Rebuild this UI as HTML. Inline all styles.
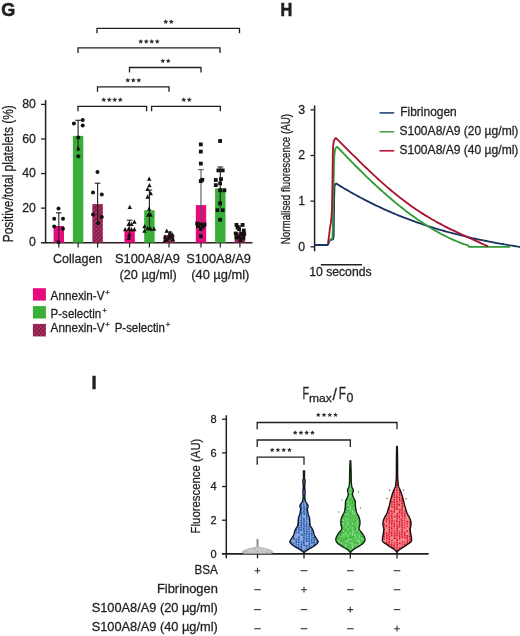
<!DOCTYPE html>
<html><head><meta charset="utf-8"><style>
html,body{margin:0;padding:0;background:#fff;}
svg{display:block;font-family:"Liberation Sans", sans-serif;will-change:transform;}
text{stroke:#231f20;stroke-width:0.28px;}
</style></head><body>
<svg width="520" height="636" viewBox="0 0 520 636">
<text x="1.2" y="15.9" font-size="18.5" text-anchor="start" font-weight="bold" fill="#231f20" textLength="14" lengthAdjust="spacingAndGlyphs" style="stroke-width:0.6px">G</text>
<text x="280.4" y="15.9" font-size="18.5" text-anchor="start" font-weight="bold" fill="#231f20" textLength="11.8" lengthAdjust="spacingAndGlyphs" style="stroke-width:0.6px">H</text>
<text x="91.6" y="389.3" font-size="18.5" text-anchor="start" font-weight="bold" fill="#231f20" style="stroke-width:0.5px">I</text>
<line x1="45.6" y1="100" x2="45.6" y2="243.29999999999998" stroke="#231f20" stroke-width="1.5"/>
<line x1="41" y1="242.7" x2="252.5" y2="242.7" stroke="#231f20" stroke-width="1.4"/>
<line x1="41" y1="104.40" x2="45.6" y2="104.40" stroke="#231f20" stroke-width="1.3"/>
<line x1="41" y1="138.98" x2="45.6" y2="138.98" stroke="#231f20" stroke-width="1.3"/>
<line x1="41" y1="173.55" x2="45.6" y2="173.55" stroke="#231f20" stroke-width="1.3"/>
<line x1="41" y1="208.12" x2="45.6" y2="208.12" stroke="#231f20" stroke-width="1.3"/>
<text x="35.9" y="108.1" font-size="12.3" text-anchor="end" font-weight="normal" fill="#231f20" >80</text>
<text x="35.9" y="142.68" font-size="12.3" text-anchor="end" font-weight="normal" fill="#231f20" >60</text>
<text x="35.9" y="177.25" font-size="12.3" text-anchor="end" font-weight="normal" fill="#231f20" >40</text>
<text x="35.9" y="211.82" font-size="12.3" text-anchor="end" font-weight="normal" fill="#231f20" >20</text>
<text x="35.9" y="246.4" font-size="12.3" text-anchor="end" font-weight="normal" fill="#231f20" >0</text>
<text transform="translate(13.4,242.2) rotate(-90)" font-size="15.2" fill="#231f20" textLength="137" lengthAdjust="spacingAndGlyphs">Positive/total platelets (%)</text>
<defs><pattern id="hatch" patternUnits="userSpaceOnUse" width="3" height="3" patternTransform="rotate(45)"><rect width="3" height="3" fill="#c0306a"/><rect width="1.1" height="3" fill="#6a1e3c"/></pattern><pattern id="hatch2" patternUnits="userSpaceOnUse" width="3" height="3" patternTransform="rotate(-45)"><rect width="1.0" height="3" fill="#6a1e3c" opacity="0.55"/></pattern></defs>
<rect x="53.60" y="226" width="10.4" height="16.70" fill="#e60a7e"/>
<rect x="72.90" y="135.9" width="10.4" height="106.80" fill="#39ae38"/>
<rect x="92.40" y="204.1" width="10.4" height="38.60" fill="url(#hatch)"/>
<rect x="92.40" y="204.1" width="10.4" height="38.60" fill="url(#hatch2)"/>
<rect x="124.40" y="230.4" width="10.4" height="12.30" fill="#e60a7e"/>
<rect x="144.20" y="210.3" width="10.4" height="32.40" fill="#39ae38"/>
<rect x="163.80" y="235.0" width="10.4" height="7.70" fill="url(#hatch)"/>
<rect x="163.80" y="235.0" width="10.4" height="7.70" fill="url(#hatch2)"/>
<rect x="195.80" y="205.1" width="10.4" height="37.60" fill="#e60a7e"/>
<rect x="215.10" y="188.4" width="10.4" height="54.30" fill="#39ae38"/>
<rect x="234.70" y="232.5" width="10.4" height="10.20" fill="url(#hatch)"/>
<rect x="234.70" y="232.5" width="10.4" height="10.20" fill="url(#hatch2)"/>
<line x1="58.8" y1="242.7" x2="58.8" y2="247.6" stroke="#231f20" stroke-width="1.2"/>
<line x1="78.1" y1="242.7" x2="78.1" y2="247.6" stroke="#231f20" stroke-width="1.2"/>
<line x1="97.6" y1="242.7" x2="97.6" y2="247.6" stroke="#231f20" stroke-width="1.2"/>
<line x1="129.6" y1="242.7" x2="129.6" y2="247.6" stroke="#231f20" stroke-width="1.2"/>
<line x1="149.4" y1="242.7" x2="149.4" y2="247.6" stroke="#231f20" stroke-width="1.2"/>
<line x1="169.0" y1="242.7" x2="169.0" y2="247.6" stroke="#231f20" stroke-width="1.2"/>
<line x1="201.0" y1="242.7" x2="201.0" y2="247.6" stroke="#231f20" stroke-width="1.2"/>
<line x1="220.3" y1="242.7" x2="220.3" y2="247.6" stroke="#231f20" stroke-width="1.2"/>
<line x1="239.9" y1="242.7" x2="239.9" y2="247.6" stroke="#231f20" stroke-width="1.2"/>
<line x1="58.8" y1="212.8" x2="58.8" y2="239.5" stroke="#231f20" stroke-width="1.1"/>
<line x1="56.0" y1="212.8" x2="61.599999999999994" y2="212.8" stroke="#231f20" stroke-width="1.1"/>
<line x1="78.1" y1="120.3" x2="78.1" y2="151.5" stroke="#231f20" stroke-width="1.1"/>
<line x1="75.3" y1="120.3" x2="80.89999999999999" y2="120.3" stroke="#231f20" stroke-width="1.1"/>
<line x1="97.6" y1="183.2" x2="97.6" y2="225" stroke="#231f20" stroke-width="1.1"/>
<line x1="94.8" y1="183.2" x2="100.39999999999999" y2="183.2" stroke="#231f20" stroke-width="1.1"/>
<line x1="129.6" y1="220.2" x2="129.6" y2="238" stroke="#231f20" stroke-width="1.1"/>
<line x1="126.8" y1="220.2" x2="132.4" y2="220.2" stroke="#231f20" stroke-width="1.1"/>
<line x1="149.4" y1="190.1" x2="149.4" y2="229" stroke="#231f20" stroke-width="1.1"/>
<line x1="146.6" y1="190.1" x2="152.20000000000002" y2="190.1" stroke="#231f20" stroke-width="1.1"/>
<line x1="169.0" y1="232" x2="169.0" y2="238" stroke="#231f20" stroke-width="1.1"/>
<line x1="166.2" y1="232" x2="171.8" y2="232" stroke="#231f20" stroke-width="1.1"/>
<line x1="201.0" y1="169.7" x2="201.0" y2="240.5" stroke="#555" stroke-width="1.1"/>
<line x1="198.2" y1="169.7" x2="203.8" y2="169.7" stroke="#555" stroke-width="1.1"/>
<line x1="220.3" y1="167" x2="220.3" y2="207.6" stroke="#231f20" stroke-width="1.1"/>
<line x1="217.5" y1="167" x2="223.10000000000002" y2="167" stroke="#231f20" stroke-width="1.1"/>
<line x1="239.9" y1="226" x2="239.9" y2="239" stroke="#231f20" stroke-width="1.1"/>
<line x1="237.1" y1="226" x2="242.70000000000002" y2="226" stroke="#231f20" stroke-width="1.1"/>
<circle cx="58.5" cy="208.5" r="2.0" fill="#111"/>
<circle cx="54.2" cy="218.8" r="2.0" fill="#111"/>
<circle cx="63" cy="218.8" r="2.0" fill="#111"/>
<circle cx="54.2" cy="226.5" r="2.0" fill="#111"/>
<circle cx="63" cy="228.7" r="2.0" fill="#111"/>
<circle cx="58.5" cy="241.9" r="2.0" fill="#111"/>
<circle cx="73.9" cy="123.6" r="2.0" fill="#111"/>
<circle cx="82.7" cy="119.9" r="2.0" fill="#111"/>
<circle cx="82.7" cy="125.4" r="2.0" fill="#111"/>
<circle cx="78.3" cy="137.5" r="2.0" fill="#111"/>
<circle cx="78.3" cy="156.2" r="2.0" fill="#111"/>
<path d="M78.30 145.88L80.50 150.17L76.10 150.17Z" fill="#111"/>
<circle cx="97.5" cy="172" r="2.0" fill="#111"/>
<circle cx="93" cy="192.4" r="2.0" fill="#111"/>
<circle cx="101.8" cy="194.6" r="2.0" fill="#111"/>
<circle cx="93" cy="214.4" r="2.0" fill="#111"/>
<circle cx="101.8" cy="217" r="2.0" fill="#111"/>
<circle cx="98.1" cy="223.2" r="2.0" fill="#111"/>
<path d="M129.80 204.78L132.00 209.07L127.60 209.07Z" fill="#111"/>
<path d="M128.70 221.78L130.90 226.07L126.50 226.07Z" fill="#111"/>
<path d="M131.50 221.78L133.70 226.07L129.30 226.07Z" fill="#111"/>
<path d="M134.40 219.48L136.60 223.77L132.20 223.77Z" fill="#111"/>
<path d="M125.20 226.98L127.40 231.27L123.00 231.27Z" fill="#111"/>
<path d="M128.70 226.38L130.90 230.67L126.50 230.67Z" fill="#111"/>
<path d="M131.50 226.98L133.70 231.27L129.30 231.27Z" fill="#111"/>
<path d="M134.40 226.98L136.60 231.27L132.20 231.27Z" fill="#111"/>
<path d="M129.20 232.18L131.40 236.47L127.00 236.47Z" fill="#111"/>
<path d="M128.70 235.78L130.90 240.07L126.50 240.07Z" fill="#111"/>
<path d="M149.20 176.58L151.40 180.87L147.00 180.87Z" fill="#111"/>
<path d="M149.40 182.88L151.60 187.17L147.20 187.17Z" fill="#111"/>
<path d="M147.60 186.68L149.80 190.97L145.40 190.97Z" fill="#111"/>
<path d="M150.70 190.88L152.90 195.17L148.50 195.17Z" fill="#111"/>
<path d="M147.60 194.58L149.80 198.87L145.40 198.87Z" fill="#111"/>
<path d="M149.10 206.58L151.30 210.87L146.90 210.87Z" fill="#111"/>
<path d="M148.30 212.58L150.50 216.87L146.10 216.87Z" fill="#111"/>
<path d="M150.60 212.58L152.80 216.87L148.40 216.87Z" fill="#111"/>
<path d="M144.50 223.88L146.70 228.17L142.30 228.17Z" fill="#111"/>
<path d="M147.70 225.88L149.90 230.17L145.50 230.17Z" fill="#111"/>
<path d="M150.60 226.38L152.80 230.67L148.40 230.67Z" fill="#111"/>
<path d="M154.00 226.38L156.20 230.67L151.80 230.67Z" fill="#111"/>
<path d="M144.50 228.58L146.70 232.87L142.30 232.87Z" fill="#111"/>
<path d="M166.70 228.58L168.90 232.87L164.50 232.87Z" fill="#111"/>
<path d="M170.20 230.58L172.40 234.87L168.00 234.87Z" fill="#111"/>
<path d="M172.50 232.18L174.70 236.47L170.30 236.47Z" fill="#111"/>
<path d="M165.00 234.58L167.20 238.87L162.80 238.87Z" fill="#111"/>
<path d="M168.50 235.58L170.70 239.87L166.30 239.87Z" fill="#111"/>
<path d="M171.30 234.58L173.50 238.87L169.10 238.87Z" fill="#111"/>
<path d="M167.00 237.58L169.20 241.87L164.80 241.87Z" fill="#111"/>
<path d="M173.00 237.08L175.20 241.37L170.80 241.37Z" fill="#111"/>
<path d="M164.80 238.08L167.00 242.37L162.60 242.37Z" fill="#111"/>
<path d="M169.50 232.58L171.70 236.87L167.30 236.87Z" fill="#111"/>
<rect x="198.90" y="142.50" width="3.8" height="3.8" fill="#111"/>
<rect x="198.90" y="149.70" width="3.8" height="3.8" fill="#111"/>
<rect x="198.90" y="161.70" width="3.8" height="3.8" fill="#111"/>
<rect x="198.90" y="179.20" width="3.8" height="3.8" fill="#111"/>
<rect x="200.40" y="177.90" width="3.8" height="3.8" fill="#111"/>
<rect x="195.30" y="221.70" width="3.8" height="3.8" fill="#111"/>
<rect x="198.90" y="222.60" width="3.8" height="3.8" fill="#111"/>
<rect x="202.60" y="222.60" width="3.8" height="3.8" fill="#111"/>
<rect x="198.90" y="227.10" width="3.8" height="3.8" fill="#111"/>
<rect x="198.90" y="234.30" width="3.8" height="3.8" fill="#111"/>
<rect x="196.10" y="224.10" width="3.8" height="3.8" fill="#111"/>
<rect x="201.10" y="224.60" width="3.8" height="3.8" fill="#111"/>
<rect x="218.20" y="139.10" width="3.8" height="3.8" fill="#111"/>
<rect x="216.50" y="168.50" width="3.8" height="3.8" fill="#111"/>
<rect x="220.80" y="168.50" width="3.8" height="3.8" fill="#111"/>
<rect x="213.90" y="178.10" width="3.8" height="3.8" fill="#111"/>
<rect x="219.10" y="177.20" width="3.8" height="3.8" fill="#111"/>
<rect x="213.90" y="183.20" width="3.8" height="3.8" fill="#111"/>
<rect x="218.20" y="181.50" width="3.8" height="3.8" fill="#111"/>
<rect x="218.20" y="188.40" width="3.8" height="3.8" fill="#111"/>
<rect x="222.50" y="188.40" width="3.8" height="3.8" fill="#111"/>
<rect x="218.20" y="201.40" width="3.8" height="3.8" fill="#111"/>
<rect x="215.60" y="208.30" width="3.8" height="3.8" fill="#111"/>
<rect x="220.80" y="208.30" width="3.8" height="3.8" fill="#111"/>
<rect x="218.20" y="217.80" width="3.8" height="3.8" fill="#111"/>
<rect x="234.60" y="223.00" width="3.8" height="3.8" fill="#111"/>
<rect x="240.70" y="223.00" width="3.8" height="3.8" fill="#111"/>
<rect x="237.20" y="227.30" width="3.8" height="3.8" fill="#111"/>
<rect x="233.80" y="231.60" width="3.8" height="3.8" fill="#111"/>
<rect x="239.80" y="231.60" width="3.8" height="3.8" fill="#111"/>
<rect x="237.20" y="235.10" width="3.8" height="3.8" fill="#111"/>
<rect x="241.50" y="235.90" width="3.8" height="3.8" fill="#111"/>
<rect x="235.60" y="225.60" width="3.8" height="3.8" fill="#111"/>
<rect x="241.90" y="228.60" width="3.8" height="3.8" fill="#111"/>
<rect x="234.60" y="235.60" width="3.8" height="3.8" fill="#111"/>
<rect x="238.60" y="238.30" width="3.8" height="3.8" fill="#111"/>
<rect x="242.30" y="232.10" width="3.8" height="3.8" fill="#111"/>
<path d="M97 33.3V28.3H239.5V33.3" fill="none" stroke="#231f20" stroke-width="1.3"/>
<path d="M78 53.099999999999994V47.8H220V53.099999999999994" fill="none" stroke="#231f20" stroke-width="1.3"/>
<path d="M129.5 72.5V67.5H201V72.5" fill="none" stroke="#231f20" stroke-width="1.3"/>
<path d="M97.5 91.8V86.8H169V91.8" fill="none" stroke="#231f20" stroke-width="1.3"/>
<path d="M78 111.3V106.3H146.6V111.3" fill="none" stroke="#231f20" stroke-width="1.3"/>
<path d="M151.6 111.3V106.3H220.3V111.3" fill="none" stroke="#231f20" stroke-width="1.3"/>
<polygon points="165.75,19.20 166.48,20.79 168.22,21.00 166.94,22.19 167.28,23.90 165.75,23.05 164.22,23.90 164.56,22.19 163.28,21.00 165.02,20.79" fill="#333"/>
<polygon points="171.25,19.20 171.98,20.79 173.72,21.00 172.44,22.19 172.78,23.90 171.25,23.05 169.72,23.90 170.06,22.19 168.78,21.00 170.52,20.79" fill="#333"/>
<polygon points="140.75,39.00 141.48,40.59 143.22,40.80 141.94,41.99 142.28,43.70 140.75,42.85 139.22,43.70 139.56,41.99 138.28,40.80 140.02,40.59" fill="#333"/>
<polygon points="146.25,39.00 146.98,40.59 148.72,40.80 147.44,41.99 147.78,43.70 146.25,42.85 144.72,43.70 145.06,41.99 143.78,40.80 145.52,40.59" fill="#333"/>
<polygon points="151.75,39.00 152.48,40.59 154.22,40.80 152.94,41.99 153.28,43.70 151.75,42.85 150.22,43.70 150.56,41.99 149.28,40.80 151.02,40.59" fill="#333"/>
<polygon points="157.25,39.00 157.98,40.59 159.72,40.80 158.44,41.99 158.78,43.70 157.25,42.85 155.72,43.70 156.06,41.99 154.78,40.80 156.52,40.59" fill="#333"/>
<polygon points="162.75,58.30 163.48,59.89 165.22,60.10 163.94,61.29 164.28,63.00 162.75,62.15 161.22,63.00 161.56,61.29 160.28,60.10 162.02,59.89" fill="#333"/>
<polygon points="168.25,58.30 168.98,59.89 170.72,60.10 169.44,61.29 169.78,63.00 168.25,62.15 166.72,63.00 167.06,61.29 165.78,60.10 167.52,59.89" fill="#333"/>
<polygon points="127.80,77.70 128.53,79.29 130.27,79.50 128.99,80.69 129.33,82.40 127.80,81.55 126.27,82.40 126.61,80.69 125.33,79.50 127.07,79.29" fill="#333"/>
<polygon points="133.30,77.70 134.03,79.29 135.77,79.50 134.49,80.69 134.83,82.40 133.30,81.55 131.77,82.40 132.11,80.69 130.83,79.50 132.57,79.29" fill="#333"/>
<polygon points="138.80,77.70 139.53,79.29 141.27,79.50 139.99,80.69 140.33,82.40 138.80,81.55 137.27,82.40 137.61,80.69 136.33,79.50 138.07,79.29" fill="#333"/>
<polygon points="103.75,97.20 104.48,98.79 106.22,99.00 104.94,100.19 105.28,101.90 103.75,101.05 102.22,101.90 102.56,100.19 101.28,99.00 103.02,98.79" fill="#333"/>
<polygon points="109.25,97.20 109.98,98.79 111.72,99.00 110.44,100.19 110.78,101.90 109.25,101.05 107.72,101.90 108.06,100.19 106.78,99.00 108.52,98.79" fill="#333"/>
<polygon points="114.75,97.20 115.48,98.79 117.22,99.00 115.94,100.19 116.28,101.90 114.75,101.05 113.22,101.90 113.56,100.19 112.28,99.00 114.02,98.79" fill="#333"/>
<polygon points="120.25,97.20 120.98,98.79 122.72,99.00 121.44,100.19 121.78,101.90 120.25,101.05 118.72,101.90 119.06,100.19 117.78,99.00 119.52,98.79" fill="#333"/>
<polygon points="183.75,97.20 184.48,98.79 186.22,99.00 184.94,100.19 185.28,101.90 183.75,101.05 182.22,101.90 182.56,100.19 181.28,99.00 183.02,98.79" fill="#333"/>
<polygon points="189.25,97.20 189.98,98.79 191.72,99.00 190.44,100.19 190.78,101.90 189.25,101.05 187.72,101.90 188.06,100.19 186.78,99.00 188.52,98.79" fill="#333"/>
<text x="53.0" y="263.2" font-size="12.5" text-anchor="start" font-weight="normal" fill="#231f20" textLength="49.3" lengthAdjust="spacingAndGlyphs" >Collagen</text>
<text x="115.0" y="263.2" font-size="12.5" text-anchor="start" font-weight="normal" fill="#231f20" textLength="64.8" lengthAdjust="spacingAndGlyphs" >S100A8/A9</text>
<text x="119.6" y="278.7" font-size="12.5" text-anchor="start" font-weight="normal" fill="#231f20" textLength="57.2" lengthAdjust="spacingAndGlyphs" >(20 µg/ml)</text>
<text x="186.2" y="263.2" font-size="12.5" text-anchor="start" font-weight="normal" fill="#231f20" textLength="64.8" lengthAdjust="spacingAndGlyphs" >S100A8/A9</text>
<text x="191.2" y="278.7" font-size="12.5" text-anchor="start" font-weight="normal" fill="#231f20" textLength="58.2" lengthAdjust="spacingAndGlyphs" >(40 µg/ml)</text>
<rect x="32.9" y="288.2" width="13" height="12.4" fill="#e60a7e"/>
<rect x="32.9" y="306.1" width="13" height="12.4" fill="#39ae38"/>
<rect x="32.9" y="323.9" width="13" height="12.5" fill="url(#hatch)"/>
<rect x="32.9" y="323.9" width="13" height="12.5" fill="url(#hatch2)"/>
<text x="50.6" y="299.9" font-size="12.4" text-anchor="start" font-weight="normal" fill="#231f20" textLength="53.9" lengthAdjust="spacingAndGlyphs" >Annexin-V</text>
<text x="105.3" y="294.6" font-size="7.5" text-anchor="start" font-weight="normal" fill="#231f20" >+</text>
<text x="50.6" y="317.8" font-size="12.4" text-anchor="start" font-weight="normal" fill="#231f20" textLength="50.6" lengthAdjust="spacingAndGlyphs" >P-selectin</text>
<text x="102.5" y="313.0" font-size="7.5" text-anchor="start" font-weight="normal" fill="#231f20" >+</text>
<text x="50.6" y="331.9" font-size="12.4" text-anchor="start" font-weight="normal" fill="#231f20" textLength="53.9" lengthAdjust="spacingAndGlyphs" >Annexin-V</text>
<text x="105.3" y="326.6" font-size="7.5" text-anchor="start" font-weight="normal" fill="#231f20" >+</text>
<text x="114.7" y="331.9" font-size="12.4" text-anchor="start" font-weight="normal" fill="#231f20" textLength="50.3" lengthAdjust="spacingAndGlyphs" >P-selectin</text>
<text x="165.8" y="326.8" font-size="7.5" text-anchor="start" font-weight="normal" fill="#231f20" >+</text>
<line x1="314.6" y1="105.4" x2="314.6" y2="251.3" stroke="#231f20" stroke-width="1.5"/>
<line x1="310.5" y1="246.80" x2="314.6" y2="246.80" stroke="#231f20" stroke-width="1.3"/>
<text x="305.0" y="250.7" font-size="12.3" text-anchor="end" font-weight="normal" fill="#231f20" >0</text>
<line x1="310.5" y1="201.13" x2="314.6" y2="201.13" stroke="#231f20" stroke-width="1.3"/>
<text x="305.0" y="205.03" font-size="12.3" text-anchor="end" font-weight="normal" fill="#231f20" >1</text>
<line x1="310.5" y1="155.47" x2="314.6" y2="155.47" stroke="#231f20" stroke-width="1.3"/>
<text x="305.0" y="159.37" font-size="12.3" text-anchor="end" font-weight="normal" fill="#231f20" >2</text>
<line x1="310.5" y1="109.80" x2="314.6" y2="109.80" stroke="#231f20" stroke-width="1.3"/>
<text x="305.0" y="113.7" font-size="12.3" text-anchor="end" font-weight="normal" fill="#231f20" >3</text>
<text transform="translate(289.6,244.2) rotate(-90)" font-size="12" fill="#231f20" textLength="130.3" lengthAdjust="spacingAndGlyphs">Normalised fluorescence (AU)</text>
<path d="M314.6 245.0 L327.7 245.0 L329.9 240.2 L333.0 239.4 L333.7 236.0 L334.1 200.0 L334.5 186.5 L335.3 184.0 L336.3 183.6 L338.3 184.8 L340.3 186.1 L342.3 187.3 L344.3 188.5 L346.3 189.6 L348.3 190.8 L350.3 192.0 L352.3 193.1 L354.3 194.2 L356.3 195.3 L358.3 196.4 L360.3 197.5 L362.3 198.5 L364.3 199.6 L366.3 200.6 L368.3 201.6 L370.3 202.6 L372.3 203.6 L374.3 204.6 L376.3 205.6 L378.3 206.5 L380.3 207.4 L382.3 208.4 L384.3 209.3 L386.3 210.2 L388.3 211.1 L390.3 211.9 L392.3 212.8 L394.3 213.6 L396.3 214.5 L398.3 215.3 L400.3 216.1 L402.3 216.9 L404.3 217.7 L406.3 218.4 L408.3 219.2 L410.3 219.9 L412.3 220.7 L414.3 221.4 L416.3 222.1 L418.3 222.8 L420.3 223.5 L422.3 224.2 L424.3 224.9 L426.3 225.5 L428.3 226.2 L430.3 226.8 L432.3 227.4 L434.3 228.1 L436.3 228.7 L438.3 229.3 L440.3 229.9 L442.3 230.4 L444.3 231.0 L446.3 231.6 L448.3 232.1 L450.3 232.7 L452.3 233.2 L454.3 233.7 L456.3 234.2 L458.3 234.7 L460.3 235.2 L462.3 235.7 L464.3 236.2 L466.3 236.7 L468.3 237.2 L470.3 237.6 L472.3 238.1 L474.3 238.5 L476.3 239.0 L478.3 239.4 L480.3 239.8 L482.3 240.2 L484.3 240.6 L486.3 241.0 L488.3 241.4 L490.3 241.8 L492.3 242.2 L494.3 242.6 L496.3 243.0 L498.3 243.3 L500.3 243.7 L502.3 244.0 L504.3 244.4 L506.3 244.7 L508.3 245.1 L510.3 245.4 L512.3 245.7 L514.3 246.0 L516.3 246.3 L518.3 246.7 L520.3 247.0 L521.0 247.1" fill="none" stroke="#1b3462" stroke-width="1.85" stroke-linejoin="round"/>
<path d="M328.6 241.2 L331.0 239.3 L332.3 238.5 L332.8 230.0 L333.3 200.0 L333.9 165.0 L334.4 155.0 L334.9 150.3 L335.6 148.2 L336.4 147.4 L337.2 146.8 L339.2 148.9 L341.2 151.0 L343.2 153.1 L345.2 155.2 L347.2 157.3 L349.2 159.4 L351.2 161.4 L353.2 163.4 L355.2 165.5 L357.2 167.5 L359.2 169.5 L361.2 171.4 L363.2 173.4 L365.2 175.3 L367.2 177.3 L369.2 179.2 L371.2 181.1 L373.2 183.0 L375.2 184.8 L377.2 186.7 L379.2 188.5 L381.2 190.3 L383.2 192.1 L385.2 193.8 L387.2 195.6 L389.2 197.3 L391.2 199.0 L393.2 200.7 L395.2 202.4 L397.2 204.0 L399.2 205.6 L401.2 207.2 L403.2 208.8 L405.2 210.4 L407.2 211.9 L409.2 213.4 L411.2 214.9 L413.2 216.3 L415.2 217.8 L417.2 219.2 L419.2 220.5 L421.2 221.9 L423.2 223.2 L425.2 224.5 L427.2 225.8 L429.2 227.1 L431.2 228.3 L433.2 229.5 L435.2 230.6 L437.2 231.8 L439.2 232.9 L441.2 234.0 L443.2 235.0 L445.2 236.0 L447.2 237.0 L449.2 238.0 L451.2 238.9 L453.2 239.8 L455.2 240.7 L457.2 241.5 L459.2 242.3 L461.2 243.1 L463.2 243.8 L465.2 244.5 L467.2 245.2 L468.5 245.6 L468.8 246.8 L510.0 246.8" fill="none" stroke="#2f9b35" stroke-width="1.85" stroke-linejoin="round"/>
<path d="M328.0 243.2 L329.2 234.7 L329.9 228.4 L330.9 222.7 L331.6 215.6 L332.0 208.5 L332.5 180.0 L332.8 155.0 L333.1 147.0 L333.6 142.2 L334.3 139.9 L335.0 139.1 L335.8 137.9 L337.8 139.8 L339.8 141.8 L341.8 143.8 L343.8 145.8 L345.8 147.8 L347.8 149.8 L349.8 151.8 L351.8 153.8 L353.8 155.7 L355.8 157.7 L357.8 159.7 L359.8 161.7 L361.8 163.6 L363.8 165.6 L365.8 167.5 L367.8 169.4 L369.8 171.3 L371.8 173.2 L373.8 175.1 L375.8 176.9 L377.8 178.8 L379.8 180.6 L381.8 182.4 L383.8 184.1 L385.8 185.9 L387.8 187.6 L389.8 189.3 L391.8 191.0 L393.8 192.6 L395.8 194.3 L397.8 195.9 L399.8 197.5 L401.8 199.0 L403.8 200.5 L405.8 202.0 L407.8 203.5 L409.8 205.0 L411.8 206.4 L413.8 207.8 L415.8 209.2 L417.8 210.5 L419.8 211.8 L421.8 213.1 L423.8 214.4 L425.8 215.6 L427.8 216.8 L429.8 218.0 L431.8 219.2 L433.8 220.3 L435.8 221.5 L437.8 222.6 L439.8 223.7 L441.8 224.7 L443.8 225.8 L445.8 226.8 L447.8 227.8 L449.8 228.8 L451.8 229.8 L453.8 230.7 L455.8 231.7 L457.8 232.6 L459.8 233.6 L461.8 234.5 L463.8 235.4 L465.8 236.3 L467.8 237.2 L469.8 238.1 L471.8 239.0 L473.8 239.9 L475.8 240.8 L477.8 241.7 L479.8 242.6 L481.8 243.6 L483.8 244.5 L485.8 245.4 L487.8 246.4 L488.0 246.5" fill="none" stroke="#a8122f" stroke-width="1.85" stroke-linejoin="round"/>
<line x1="379.5" y1="112.9" x2="394.2" y2="112.9" stroke="#234777" stroke-width="1.6"/>
<line x1="379.5" y1="131.8" x2="394.2" y2="131.8" stroke="#4aa64f" stroke-width="1.6"/>
<line x1="379.5" y1="150.8" x2="394.2" y2="150.8" stroke="#bd1433" stroke-width="1.6"/>
<text x="400.2" y="115.6" font-size="12" text-anchor="start" font-weight="normal" fill="#231f20" textLength="56.6" lengthAdjust="spacingAndGlyphs" >Fibrinogen</text>
<text x="399.4" y="135.0" font-size="12" text-anchor="start" font-weight="normal" fill="#231f20" textLength="119" lengthAdjust="spacingAndGlyphs" >S100A8/A9 (20 µg/ml)</text>
<text x="399.4" y="153.7" font-size="12" text-anchor="start" font-weight="normal" fill="#231f20" textLength="119" lengthAdjust="spacingAndGlyphs" >S100A8/A9 (40 µg/ml)</text>
<line x1="320.8" y1="264.7" x2="362" y2="264.7" stroke="#231f20" stroke-width="1.5"/>
<text x="309.2" y="276.4" font-size="12" text-anchor="start" font-weight="normal" fill="#231f20" textLength="62.4" lengthAdjust="spacingAndGlyphs" >10 seconds</text>
<line x1="226.3" y1="415.3" x2="226.3" y2="558.3" stroke="#231f20" stroke-width="1.5"/>
<line x1="222" y1="553.9" x2="428.7" y2="553.9" stroke="#231f20" stroke-width="1.6"/>
<line x1="222" y1="419.20" x2="226.3" y2="419.20" stroke="#231f20" stroke-width="1.3"/>
<line x1="222" y1="452.88" x2="226.3" y2="452.88" stroke="#231f20" stroke-width="1.3"/>
<line x1="222" y1="486.55" x2="226.3" y2="486.55" stroke="#231f20" stroke-width="1.3"/>
<line x1="222" y1="520.23" x2="226.3" y2="520.23" stroke="#231f20" stroke-width="1.3"/>
<text x="216.6" y="423.1" font-size="11" text-anchor="end" font-weight="normal" fill="#231f20" >8</text>
<text x="216.6" y="456.77" font-size="11" text-anchor="end" font-weight="normal" fill="#231f20" >6</text>
<text x="216.6" y="490.45" font-size="11" text-anchor="end" font-weight="normal" fill="#231f20" >4</text>
<text x="216.6" y="524.12" font-size="11" text-anchor="end" font-weight="normal" fill="#231f20" >2</text>
<text x="216.6" y="557.8" font-size="11" text-anchor="end" font-weight="normal" fill="#231f20" >0</text>
<text transform="translate(199.6,533.4) rotate(-90)" font-size="13.6" fill="#231f20" textLength="94.8" lengthAdjust="spacingAndGlyphs">Fluorescence (AU)</text>
<text x="302.6" y="399.2" font-size="15.6" text-anchor="start" font-weight="normal" fill="#231f20" textLength="6.6" lengthAdjust="spacingAndGlyphs" >F</text>
<text x="309.0" y="401.6" font-size="10.8" text-anchor="start" font-weight="normal" fill="#231f20" textLength="22.8" lengthAdjust="spacingAndGlyphs" >max</text>
<text x="332.6" y="400.0" font-size="15.8" text-anchor="start" font-weight="normal" fill="#231f20" >/</text>
<text x="338.8" y="399.2" font-size="15.6" text-anchor="start" font-weight="normal" fill="#231f20" textLength="7.2" lengthAdjust="spacingAndGlyphs" >F</text>
<text x="346.4" y="402.4" font-size="12.6" text-anchor="start" font-weight="normal" fill="#231f20" textLength="6.9" lengthAdjust="spacingAndGlyphs" >0</text>
<line x1="257.5" y1="553.9" x2="257.5" y2="558.4" stroke="#231f20" stroke-width="1.3"/>
<line x1="304.0" y1="553.9" x2="304.0" y2="558.4" stroke="#231f20" stroke-width="1.3"/>
<line x1="350.3" y1="553.9" x2="350.3" y2="558.4" stroke="#231f20" stroke-width="1.3"/>
<line x1="397.0" y1="553.9" x2="397.0" y2="558.4" stroke="#231f20" stroke-width="1.3"/>
<path d="M257.2 429.3V422.5H397V429.3" fill="none" stroke="#231f20" stroke-width="1.3"/>
<path d="M257.2 447V440H350.3V447" fill="none" stroke="#231f20" stroke-width="1.3"/>
<path d="M257.2 464.8V457.2H304V464.8" fill="none" stroke="#231f20" stroke-width="1.3"/>
<polygon points="318.27,412.40 318.98,413.93 320.65,414.13 319.42,415.27 319.74,416.92 318.27,416.10 316.81,416.92 317.13,415.27 315.90,414.13 317.57,413.93" fill="#333"/>
<polygon points="324.02,412.40 324.73,413.93 326.40,414.13 325.17,415.27 325.49,416.92 324.02,416.10 322.56,416.92 322.88,415.27 321.65,414.13 323.32,413.93" fill="#333"/>
<polygon points="329.77,412.40 330.48,413.93 332.15,414.13 330.92,415.27 331.24,416.92 329.77,416.10 328.31,416.92 328.63,415.27 327.40,414.13 329.07,413.93" fill="#333"/>
<polygon points="335.52,412.40 336.23,413.93 337.90,414.13 336.67,415.27 336.99,416.92 335.52,416.10 334.06,416.92 334.38,415.27 333.15,414.13 334.82,413.93" fill="#333"/>
<polygon points="295.18,430.30 295.88,431.83 297.55,432.03 296.32,433.17 296.64,434.82 295.18,434.00 293.71,434.82 294.03,433.17 292.80,432.03 294.47,431.83" fill="#333"/>
<polygon points="300.93,430.30 301.63,431.83 303.30,432.03 302.07,433.17 302.39,434.82 300.93,434.00 299.46,434.82 299.78,433.17 298.55,432.03 300.22,431.83" fill="#333"/>
<polygon points="306.68,430.30 307.38,431.83 309.05,432.03 307.82,433.17 308.14,434.82 306.68,434.00 305.21,434.82 305.53,433.17 304.30,432.03 305.97,431.83" fill="#333"/>
<polygon points="312.43,430.30 313.13,431.83 314.80,432.03 313.57,433.17 313.89,434.82 312.43,434.00 310.96,434.82 311.28,433.17 310.05,432.03 311.72,431.83" fill="#333"/>
<polygon points="272.18,447.50 272.88,449.03 274.55,449.23 273.32,450.37 273.64,452.02 272.18,451.20 270.71,452.02 271.03,450.37 269.80,449.23 271.47,449.03" fill="#333"/>
<polygon points="277.93,447.50 278.63,449.03 280.30,449.23 279.07,450.37 279.39,452.02 277.93,451.20 276.46,452.02 276.78,450.37 275.55,449.23 277.22,449.03" fill="#333"/>
<polygon points="283.68,447.50 284.38,449.03 286.05,449.23 284.82,450.37 285.14,452.02 283.68,451.20 282.21,452.02 282.53,450.37 281.30,449.23 282.97,449.03" fill="#333"/>
<polygon points="289.43,447.50 290.13,449.03 291.80,449.23 290.57,450.37 290.89,452.02 289.43,451.20 287.96,452.02 288.28,450.37 287.05,449.23 288.72,449.03" fill="#333"/>
<clipPath id="clip257"><path d="M257.10 539.00 L257.05 539.22 L256.99 539.49 L256.91 539.85 L256.85 540.34 L256.80 541.00 L256.82 541.95 L256.89 543.16 L256.95 544.45 L256.94 545.63 L256.80 546.50 L256.53 547.00 L256.18 547.26 L255.72 547.38 L255.17 547.46 L254.50 547.60 L253.66 547.80 L252.67 547.99 L251.59 548.18 L250.51 548.38 L249.50 548.60 L248.53 548.86 L247.56 549.14 L246.62 549.43 L245.75 549.72 L245.00 550.00 L244.37 550.27 L243.84 550.53 L243.39 550.78 L243.02 551.04 L242.70 551.30 L242.42 551.56 L242.19 551.83 L242.04 552.10 L242.00 552.36 L242.10 552.60 L242.43 552.84 L242.96 553.07 L243.57 553.29 L244.13 553.47 L244.50 553.60 L270.50 553.60 L270.87 553.47 L271.43 553.29 L272.04 553.07 L272.57 552.84 L272.90 552.60 L273.00 552.36 L272.96 552.10 L272.81 551.83 L272.58 551.56 L272.30 551.30 L271.98 551.04 L271.61 550.78 L271.16 550.53 L270.63 550.27 L270.00 550.00 L269.25 549.72 L268.38 549.43 L267.44 549.14 L266.47 548.86 L265.50 548.60 L264.49 548.38 L263.41 548.18 L262.33 547.99 L261.34 547.80 L260.50 547.60 L259.83 547.46 L259.28 547.38 L258.82 547.26 L258.47 547.00 L258.20 546.50 L258.06 545.63 L258.05 544.45 L258.11 543.16 L258.18 541.95 L258.20 541.00 L258.15 540.34 L258.09 539.85 L258.01 539.49 L257.95 539.22 L257.90 539.00Z"/></clipPath>
<path d="M257.10 539.00 L257.05 539.22 L256.99 539.49 L256.91 539.85 L256.85 540.34 L256.80 541.00 L256.82 541.95 L256.89 543.16 L256.95 544.45 L256.94 545.63 L256.80 546.50 L256.53 547.00 L256.18 547.26 L255.72 547.38 L255.17 547.46 L254.50 547.60 L253.66 547.80 L252.67 547.99 L251.59 548.18 L250.51 548.38 L249.50 548.60 L248.53 548.86 L247.56 549.14 L246.62 549.43 L245.75 549.72 L245.00 550.00 L244.37 550.27 L243.84 550.53 L243.39 550.78 L243.02 551.04 L242.70 551.30 L242.42 551.56 L242.19 551.83 L242.04 552.10 L242.00 552.36 L242.10 552.60 L242.43 552.84 L242.96 553.07 L243.57 553.29 L244.13 553.47 L244.50 553.60 L270.50 553.60 L270.87 553.47 L271.43 553.29 L272.04 553.07 L272.57 552.84 L272.90 552.60 L273.00 552.36 L272.96 552.10 L272.81 551.83 L272.58 551.56 L272.30 551.30 L271.98 551.04 L271.61 550.78 L271.16 550.53 L270.63 550.27 L270.00 550.00 L269.25 549.72 L268.38 549.43 L267.44 549.14 L266.47 548.86 L265.50 548.60 L264.49 548.38 L263.41 548.18 L262.33 547.99 L261.34 547.80 L260.50 547.60 L259.83 547.46 L259.28 547.38 L258.82 547.26 L258.47 547.00 L258.20 546.50 L258.06 545.63 L258.05 544.45 L258.11 543.16 L258.18 541.95 L258.20 541.00 L258.15 540.34 L258.09 539.85 L258.01 539.49 L257.95 539.22 L257.90 539.00Z" fill="#c9c9c9"/>
<g clip-path="url(#clip257)"><rect x="245.57" y="550.93" width="1.2" height="1.2" fill="#9a9a9a"/><rect x="250.18" y="553.11" width="1.2" height="1.2" fill="#9a9a9a"/><rect x="252.35" y="552.54" width="1.2" height="1.2" fill="#9a9a9a"/><rect x="254.59" y="548.54" width="1.2" height="1.2" fill="#9a9a9a"/><rect x="256.76" y="551.09" width="1.2" height="1.2" fill="#9a9a9a"/><rect x="266.33" y="551.58" width="1.2" height="1.2" fill="#9a9a9a"/><rect x="268.44" y="552.62" width="1.2" height="1.2" fill="#9a9a9a"/><rect x="270.94" y="552.11" width="1.2" height="1.2" fill="#9a9a9a"/></g>
<path d="M257.10 539.00 L257.05 539.22 L256.99 539.49 L256.91 539.85 L256.85 540.34 L256.80 541.00 L256.82 541.95 L256.89 543.16 L256.95 544.45 L256.94 545.63 L256.80 546.50 L256.53 547.00 L256.18 547.26 L255.72 547.38 L255.17 547.46 L254.50 547.60 L253.66 547.80 L252.67 547.99 L251.59 548.18 L250.51 548.38 L249.50 548.60 L248.53 548.86 L247.56 549.14 L246.62 549.43 L245.75 549.72 L245.00 550.00 L244.37 550.27 L243.84 550.53 L243.39 550.78 L243.02 551.04 L242.70 551.30 L242.42 551.56 L242.19 551.83 L242.04 552.10 L242.00 552.36 L242.10 552.60 L242.43 552.84 L242.96 553.07 L243.57 553.29 L244.13 553.47 L244.50 553.60 L270.50 553.60 L270.87 553.47 L271.43 553.29 L272.04 553.07 L272.57 552.84 L272.90 552.60 L273.00 552.36 L272.96 552.10 L272.81 551.83 L272.58 551.56 L272.30 551.30 L271.98 551.04 L271.61 550.78 L271.16 550.53 L270.63 550.27 L270.00 550.00 L269.25 549.72 L268.38 549.43 L267.44 549.14 L266.47 548.86 L265.50 548.60 L264.49 548.38 L263.41 548.18 L262.33 547.99 L261.34 547.80 L260.50 547.60 L259.83 547.46 L259.28 547.38 L258.82 547.26 L258.47 547.00 L258.20 546.50 L258.06 545.63 L258.05 544.45 L258.11 543.16 L258.18 541.95 L258.20 541.00 L258.15 540.34 L258.09 539.85 L258.01 539.49 L257.95 539.22 L257.90 539.00Z" fill="none" stroke="#a3a3a3" stroke-width="0.8" stroke-linejoin="round"/>
<rect x="256.8" y="539" width="1.4" height="8" fill="#8f8f8f"/>
<clipPath id="clip304"><path d="M303.40 471.00 L303.42 471.95 L303.47 473.33 L303.51 474.90 L303.52 476.40 L303.50 477.60 L303.41 478.39 L303.26 478.94 L303.10 479.40 L302.97 479.93 L302.90 480.70 L302.93 481.78 L303.03 483.05 L303.15 484.42 L303.26 485.77 L303.30 487.00 L303.26 488.07 L303.16 489.06 L303.05 490.01 L302.95 490.98 L302.90 492.00 L302.93 493.14 L303.01 494.37 L303.11 495.60 L303.19 496.73 L303.20 497.70 L303.14 498.46 L303.04 499.06 L302.90 499.56 L302.75 500.02 L302.60 500.50 L302.45 500.97 L302.30 501.39 L302.13 501.81 L301.94 502.23 L301.70 502.70 L301.38 503.24 L301.00 503.84 L300.60 504.45 L300.24 505.02 L300.00 505.50 L299.88 505.87 L299.85 506.15 L299.88 506.39 L299.93 506.63 L300.00 506.90 L300.09 507.20 L300.23 507.51 L300.38 507.83 L300.52 508.16 L300.60 508.50 L300.64 508.83 L300.64 509.15 L300.62 509.49 L300.58 509.89 L300.50 510.40 L300.39 511.04 L300.25 511.78 L300.08 512.58 L299.90 513.40 L299.70 514.20 L299.47 514.98 L299.21 515.76 L298.93 516.54 L298.69 517.32 L298.50 518.10 L298.39 518.87 L298.32 519.64 L298.29 520.41 L298.26 521.16 L298.20 521.90 L298.13 522.63 L298.06 523.36 L297.98 524.07 L297.87 524.76 L297.70 525.40 L297.46 525.98 L297.17 526.52 L296.85 527.03 L296.52 527.55 L296.20 528.10 L295.89 528.70 L295.57 529.32 L295.25 529.95 L294.96 530.58 L294.70 531.20 L294.51 531.80 L294.36 532.40 L294.24 533.00 L294.09 533.60 L293.90 534.20 L293.65 534.81 L293.37 535.43 L293.07 536.06 L292.74 536.68 L292.40 537.30 L292.01 537.95 L291.57 538.63 L291.12 539.30 L290.72 539.90 L290.40 540.40 L290.16 540.75 L289.98 540.98 L289.85 541.16 L289.79 541.35 L289.80 541.60 L289.87 541.92 L289.99 542.26 L290.18 542.63 L290.48 543.04 L290.90 543.50 L291.46 544.03 L292.15 544.62 L292.94 545.24 L293.79 545.88 L294.70 546.50 L295.71 547.13 L296.86 547.77 L298.03 548.41 L299.14 549.03 L300.10 549.60 L300.90 550.12 L301.62 550.61 L302.24 551.06 L302.76 551.49 L303.20 551.90 L303.52 552.31 L303.72 552.70 L303.85 553.07 L303.93 553.38 L304.00 553.60 L304.00 553.60 L304.07 553.38 L304.15 553.07 L304.28 552.70 L304.48 552.31 L304.80 551.90 L305.24 551.49 L305.76 551.06 L306.38 550.61 L307.10 550.12 L307.90 549.60 L308.86 549.03 L309.97 548.41 L311.14 547.77 L312.29 547.13 L313.30 546.50 L314.21 545.88 L315.06 545.24 L315.85 544.62 L316.54 544.03 L317.10 543.50 L317.52 543.04 L317.82 542.63 L318.01 542.26 L318.13 541.92 L318.20 541.60 L318.21 541.35 L318.15 541.16 L318.02 540.98 L317.84 540.75 L317.60 540.40 L317.28 539.90 L316.88 539.30 L316.43 538.63 L315.99 537.95 L315.60 537.30 L315.26 536.68 L314.93 536.06 L314.63 535.43 L314.35 534.81 L314.10 534.20 L313.91 533.60 L313.76 533.00 L313.64 532.40 L313.49 531.80 L313.30 531.20 L313.04 530.58 L312.75 529.95 L312.43 529.32 L312.11 528.70 L311.80 528.10 L311.48 527.55 L311.15 527.03 L310.83 526.52 L310.54 525.98 L310.30 525.40 L310.13 524.76 L310.02 524.07 L309.94 523.36 L309.87 522.63 L309.80 521.90 L309.74 521.16 L309.71 520.41 L309.68 519.64 L309.61 518.87 L309.50 518.10 L309.31 517.32 L309.07 516.54 L308.79 515.76 L308.53 514.98 L308.30 514.20 L308.10 513.40 L307.92 512.58 L307.75 511.78 L307.61 511.04 L307.50 510.40 L307.42 509.89 L307.38 509.49 L307.36 509.15 L307.36 508.83 L307.40 508.50 L307.48 508.16 L307.62 507.83 L307.77 507.51 L307.91 507.20 L308.00 506.90 L308.07 506.63 L308.12 506.39 L308.15 506.15 L308.12 505.87 L308.00 505.50 L307.76 505.02 L307.40 504.45 L307.00 503.84 L306.62 503.24 L306.30 502.70 L306.06 502.23 L305.87 501.81 L305.70 501.39 L305.55 500.97 L305.40 500.50 L305.25 500.02 L305.10 499.56 L304.96 499.06 L304.86 498.46 L304.80 497.70 L304.81 496.73 L304.89 495.60 L304.99 494.37 L305.07 493.14 L305.10 492.00 L305.05 490.98 L304.95 490.01 L304.84 489.06 L304.74 488.07 L304.70 487.00 L304.74 485.77 L304.85 484.42 L304.97 483.05 L305.07 481.78 L305.10 480.70 L305.03 479.93 L304.90 479.40 L304.74 478.94 L304.59 478.39 L304.50 477.60 L304.48 476.40 L304.49 474.90 L304.53 473.33 L304.58 471.95 L304.60 471.00Z"/></clipPath>
<path d="M303.40 471.00 L303.42 471.95 L303.47 473.33 L303.51 474.90 L303.52 476.40 L303.50 477.60 L303.41 478.39 L303.26 478.94 L303.10 479.40 L302.97 479.93 L302.90 480.70 L302.93 481.78 L303.03 483.05 L303.15 484.42 L303.26 485.77 L303.30 487.00 L303.26 488.07 L303.16 489.06 L303.05 490.01 L302.95 490.98 L302.90 492.00 L302.93 493.14 L303.01 494.37 L303.11 495.60 L303.19 496.73 L303.20 497.70 L303.14 498.46 L303.04 499.06 L302.90 499.56 L302.75 500.02 L302.60 500.50 L302.45 500.97 L302.30 501.39 L302.13 501.81 L301.94 502.23 L301.70 502.70 L301.38 503.24 L301.00 503.84 L300.60 504.45 L300.24 505.02 L300.00 505.50 L299.88 505.87 L299.85 506.15 L299.88 506.39 L299.93 506.63 L300.00 506.90 L300.09 507.20 L300.23 507.51 L300.38 507.83 L300.52 508.16 L300.60 508.50 L300.64 508.83 L300.64 509.15 L300.62 509.49 L300.58 509.89 L300.50 510.40 L300.39 511.04 L300.25 511.78 L300.08 512.58 L299.90 513.40 L299.70 514.20 L299.47 514.98 L299.21 515.76 L298.93 516.54 L298.69 517.32 L298.50 518.10 L298.39 518.87 L298.32 519.64 L298.29 520.41 L298.26 521.16 L298.20 521.90 L298.13 522.63 L298.06 523.36 L297.98 524.07 L297.87 524.76 L297.70 525.40 L297.46 525.98 L297.17 526.52 L296.85 527.03 L296.52 527.55 L296.20 528.10 L295.89 528.70 L295.57 529.32 L295.25 529.95 L294.96 530.58 L294.70 531.20 L294.51 531.80 L294.36 532.40 L294.24 533.00 L294.09 533.60 L293.90 534.20 L293.65 534.81 L293.37 535.43 L293.07 536.06 L292.74 536.68 L292.40 537.30 L292.01 537.95 L291.57 538.63 L291.12 539.30 L290.72 539.90 L290.40 540.40 L290.16 540.75 L289.98 540.98 L289.85 541.16 L289.79 541.35 L289.80 541.60 L289.87 541.92 L289.99 542.26 L290.18 542.63 L290.48 543.04 L290.90 543.50 L291.46 544.03 L292.15 544.62 L292.94 545.24 L293.79 545.88 L294.70 546.50 L295.71 547.13 L296.86 547.77 L298.03 548.41 L299.14 549.03 L300.10 549.60 L300.90 550.12 L301.62 550.61 L302.24 551.06 L302.76 551.49 L303.20 551.90 L303.52 552.31 L303.72 552.70 L303.85 553.07 L303.93 553.38 L304.00 553.60 L304.00 553.60 L304.07 553.38 L304.15 553.07 L304.28 552.70 L304.48 552.31 L304.80 551.90 L305.24 551.49 L305.76 551.06 L306.38 550.61 L307.10 550.12 L307.90 549.60 L308.86 549.03 L309.97 548.41 L311.14 547.77 L312.29 547.13 L313.30 546.50 L314.21 545.88 L315.06 545.24 L315.85 544.62 L316.54 544.03 L317.10 543.50 L317.52 543.04 L317.82 542.63 L318.01 542.26 L318.13 541.92 L318.20 541.60 L318.21 541.35 L318.15 541.16 L318.02 540.98 L317.84 540.75 L317.60 540.40 L317.28 539.90 L316.88 539.30 L316.43 538.63 L315.99 537.95 L315.60 537.30 L315.26 536.68 L314.93 536.06 L314.63 535.43 L314.35 534.81 L314.10 534.20 L313.91 533.60 L313.76 533.00 L313.64 532.40 L313.49 531.80 L313.30 531.20 L313.04 530.58 L312.75 529.95 L312.43 529.32 L312.11 528.70 L311.80 528.10 L311.48 527.55 L311.15 527.03 L310.83 526.52 L310.54 525.98 L310.30 525.40 L310.13 524.76 L310.02 524.07 L309.94 523.36 L309.87 522.63 L309.80 521.90 L309.74 521.16 L309.71 520.41 L309.68 519.64 L309.61 518.87 L309.50 518.10 L309.31 517.32 L309.07 516.54 L308.79 515.76 L308.53 514.98 L308.30 514.20 L308.10 513.40 L307.92 512.58 L307.75 511.78 L307.61 511.04 L307.50 510.40 L307.42 509.89 L307.38 509.49 L307.36 509.15 L307.36 508.83 L307.40 508.50 L307.48 508.16 L307.62 507.83 L307.77 507.51 L307.91 507.20 L308.00 506.90 L308.07 506.63 L308.12 506.39 L308.15 506.15 L308.12 505.87 L308.00 505.50 L307.76 505.02 L307.40 504.45 L307.00 503.84 L306.62 503.24 L306.30 502.70 L306.06 502.23 L305.87 501.81 L305.70 501.39 L305.55 500.97 L305.40 500.50 L305.25 500.02 L305.10 499.56 L304.96 499.06 L304.86 498.46 L304.80 497.70 L304.81 496.73 L304.89 495.60 L304.99 494.37 L305.07 493.14 L305.10 492.00 L305.05 490.98 L304.95 490.01 L304.84 489.06 L304.74 488.07 L304.70 487.00 L304.74 485.77 L304.85 484.42 L304.97 483.05 L305.07 481.78 L305.10 480.70 L305.03 479.93 L304.90 479.40 L304.74 478.94 L304.59 478.39 L304.50 477.60 L304.48 476.40 L304.49 474.90 L304.53 473.33 L304.58 471.95 L304.60 471.00Z" fill="#86a9df"/>
<g clip-path="url(#clip304)"><rect x="290.38" y="541.59" width="1.5" height="1.8" fill="#1f4fa3"/><rect x="292.62" y="535.49" width="1.5" height="1.8" fill="#1f4fa3"/><rect x="293.04" y="537.89" width="1.5" height="1.8" fill="#1f4fa3"/><rect x="292.75" y="542.69" width="1.5" height="1.8" fill="#3466b8"/><rect x="292.62" y="545.09" width="1.5" height="1.8" fill="#1f4fa3"/><rect x="295.28" y="529.07" width="1.5" height="1.8" fill="#1f4fa3"/><rect x="295.36" y="531.47" width="1.5" height="1.8" fill="#3466b8"/><rect x="295.46" y="538.67" width="1.5" height="1.8" fill="#1f4fa3"/><rect x="295.48" y="541.07" width="1.5" height="1.8" fill="#1f4fa3"/><rect x="295.45" y="543.47" width="1.5" height="1.8" fill="#3466b8"/><rect x="295.32" y="545.87" width="1.5" height="1.8" fill="#1f4fa3"/><rect x="297.81" y="519.72" width="1.5" height="1.8" fill="#1f4fa3"/><rect x="297.81" y="522.12" width="1.5" height="1.8" fill="#1f4fa3"/><rect x="297.83" y="524.52" width="1.5" height="1.8" fill="#1f4fa3"/><rect x="298.14" y="526.92" width="1.5" height="1.8" fill="#1f4fa3"/><rect x="298.17" y="529.32" width="1.5" height="1.8" fill="#1f4fa3"/><rect x="298.14" y="531.72" width="1.5" height="1.8" fill="#1f4fa3"/><rect x="298.10" y="536.52" width="1.5" height="1.8" fill="#1f4fa3"/><rect x="297.96" y="538.92" width="1.5" height="1.8" fill="#1f4fa3"/><rect x="297.95" y="541.32" width="1.5" height="1.8" fill="#1f4fa3"/><rect x="297.81" y="543.72" width="1.5" height="1.8" fill="#3466b8"/><rect x="297.96" y="546.12" width="1.5" height="1.8" fill="#1f4fa3"/><rect x="297.92" y="548.52" width="1.5" height="1.8" fill="#3466b8"/><rect x="300.45" y="505.05" width="1.5" height="1.8" fill="#1f4fa3"/><rect x="300.82" y="507.45" width="1.5" height="1.8" fill="#1f4fa3"/><rect x="300.48" y="509.85" width="1.5" height="1.8" fill="#3466b8"/><rect x="300.84" y="512.25" width="1.5" height="1.8" fill="#1f4fa3"/><rect x="300.46" y="514.65" width="1.5" height="1.8" fill="#1f4fa3"/><rect x="300.80" y="517.05" width="1.5" height="1.8" fill="#1f4fa3"/><rect x="300.54" y="519.45" width="1.5" height="1.8" fill="#1f4fa3"/><rect x="300.80" y="521.85" width="1.5" height="1.8" fill="#1f4fa3"/><rect x="300.55" y="524.25" width="1.5" height="1.8" fill="#1f4fa3"/><rect x="300.57" y="526.65" width="1.5" height="1.8" fill="#1f4fa3"/><rect x="300.60" y="529.05" width="1.5" height="1.8" fill="#1f4fa3"/><rect x="300.87" y="533.85" width="1.5" height="1.8" fill="#1f4fa3"/><rect x="300.86" y="541.05" width="1.5" height="1.8" fill="#3466b8"/><rect x="300.82" y="543.45" width="1.5" height="1.8" fill="#1f4fa3"/><rect x="300.54" y="545.85" width="1.5" height="1.8" fill="#1f4fa3"/><rect x="300.43" y="548.25" width="1.5" height="1.8" fill="#1f4fa3"/><rect x="303.02" y="472.41" width="1.5" height="1.8" fill="#3466b8"/><rect x="303.45" y="477.21" width="1.5" height="1.8" fill="#3466b8"/><rect x="303.37" y="482.01" width="1.5" height="1.8" fill="#1f4fa3"/><rect x="303.33" y="484.41" width="1.5" height="1.8" fill="#1f4fa3"/><rect x="303.47" y="486.81" width="1.5" height="1.8" fill="#1f4fa3"/><rect x="303.13" y="489.21" width="1.5" height="1.8" fill="#1f4fa3"/><rect x="303.18" y="494.01" width="1.5" height="1.8" fill="#3466b8"/><rect x="303.41" y="496.41" width="1.5" height="1.8" fill="#1f4fa3"/><rect x="303.46" y="498.81" width="1.5" height="1.8" fill="#3466b8"/><rect x="303.00" y="501.21" width="1.5" height="1.8" fill="#3466b8"/><rect x="303.02" y="503.61" width="1.5" height="1.8" fill="#3466b8"/><rect x="303.26" y="506.01" width="1.5" height="1.8" fill="#1f4fa3"/><rect x="303.39" y="508.41" width="1.5" height="1.8" fill="#1f4fa3"/><rect x="303.06" y="510.81" width="1.5" height="1.8" fill="#1f4fa3"/><rect x="303.49" y="513.21" width="1.5" height="1.8" fill="#1f4fa3"/><rect x="303.16" y="518.01" width="1.5" height="1.8" fill="#1f4fa3"/><rect x="303.32" y="520.41" width="1.5" height="1.8" fill="#1f4fa3"/><rect x="303.10" y="522.81" width="1.5" height="1.8" fill="#1f4fa3"/><rect x="303.28" y="525.21" width="1.5" height="1.8" fill="#1f4fa3"/><rect x="303.04" y="527.61" width="1.5" height="1.8" fill="#1f4fa3"/><rect x="303.30" y="530.01" width="1.5" height="1.8" fill="#1f4fa3"/><rect x="303.40" y="532.41" width="1.5" height="1.8" fill="#1f4fa3"/><rect x="303.19" y="534.81" width="1.5" height="1.8" fill="#1f4fa3"/><rect x="303.21" y="537.21" width="1.5" height="1.8" fill="#1f4fa3"/><rect x="303.12" y="539.61" width="1.5" height="1.8" fill="#1f4fa3"/><rect x="303.04" y="542.01" width="1.5" height="1.8" fill="#1f4fa3"/><rect x="303.44" y="544.41" width="1.5" height="1.8" fill="#1f4fa3"/><rect x="303.40" y="549.21" width="1.5" height="1.8" fill="#3466b8"/><rect x="303.06" y="551.61" width="1.5" height="1.8" fill="#1f4fa3"/><rect x="306.00" y="504.15" width="1.5" height="1.8" fill="#3466b8"/><rect x="305.88" y="506.55" width="1.5" height="1.8" fill="#1f4fa3"/><rect x="305.60" y="508.95" width="1.5" height="1.8" fill="#1f4fa3"/><rect x="305.62" y="511.35" width="1.5" height="1.8" fill="#3466b8"/><rect x="306.04" y="513.75" width="1.5" height="1.8" fill="#1f4fa3"/><rect x="306.02" y="516.15" width="1.5" height="1.8" fill="#1f4fa3"/><rect x="305.94" y="518.55" width="1.5" height="1.8" fill="#3466b8"/><rect x="305.89" y="520.95" width="1.5" height="1.8" fill="#3466b8"/><rect x="305.98" y="523.35" width="1.5" height="1.8" fill="#1f4fa3"/><rect x="305.65" y="525.75" width="1.5" height="1.8" fill="#1f4fa3"/><rect x="305.63" y="528.15" width="1.5" height="1.8" fill="#3466b8"/><rect x="306.01" y="530.55" width="1.5" height="1.8" fill="#1f4fa3"/><rect x="305.72" y="532.95" width="1.5" height="1.8" fill="#1f4fa3"/><rect x="305.80" y="535.35" width="1.5" height="1.8" fill="#3466b8"/><rect x="305.78" y="537.75" width="1.5" height="1.8" fill="#1f4fa3"/><rect x="305.85" y="540.15" width="1.5" height="1.8" fill="#1f4fa3"/><rect x="305.68" y="544.95" width="1.5" height="1.8" fill="#1f4fa3"/><rect x="305.94" y="547.35" width="1.5" height="1.8" fill="#3466b8"/><rect x="305.92" y="549.75" width="1.5" height="1.8" fill="#1f4fa3"/><rect x="308.57" y="518.75" width="1.5" height="1.8" fill="#1f4fa3"/><rect x="308.56" y="523.55" width="1.5" height="1.8" fill="#1f4fa3"/><rect x="308.30" y="525.95" width="1.5" height="1.8" fill="#1f4fa3"/><rect x="308.32" y="528.35" width="1.5" height="1.8" fill="#1f4fa3"/><rect x="308.35" y="530.75" width="1.5" height="1.8" fill="#3466b8"/><rect x="308.63" y="533.15" width="1.5" height="1.8" fill="#1f4fa3"/><rect x="308.31" y="535.55" width="1.5" height="1.8" fill="#1f4fa3"/><rect x="308.39" y="537.95" width="1.5" height="1.8" fill="#1f4fa3"/><rect x="308.36" y="540.35" width="1.5" height="1.8" fill="#1f4fa3"/><rect x="308.70" y="542.75" width="1.5" height="1.8" fill="#1f4fa3"/><rect x="308.43" y="545.15" width="1.5" height="1.8" fill="#1f4fa3"/><rect x="308.48" y="547.55" width="1.5" height="1.8" fill="#3466b8"/><rect x="311.00" y="529.76" width="1.5" height="1.8" fill="#3466b8"/><rect x="311.03" y="532.16" width="1.5" height="1.8" fill="#3466b8"/><rect x="311.16" y="534.56" width="1.5" height="1.8" fill="#1f4fa3"/><rect x="311.23" y="536.96" width="1.5" height="1.8" fill="#3466b8"/><rect x="310.93" y="539.36" width="1.5" height="1.8" fill="#1f4fa3"/><rect x="311.23" y="541.76" width="1.5" height="1.8" fill="#1f4fa3"/><rect x="310.96" y="546.56" width="1.5" height="1.8" fill="#3466b8"/><rect x="313.45" y="536.82" width="1.5" height="1.8" fill="#1f4fa3"/><rect x="313.58" y="539.22" width="1.5" height="1.8" fill="#1f4fa3"/><rect x="313.40" y="541.62" width="1.5" height="1.8" fill="#1f4fa3"/><rect x="313.64" y="544.02" width="1.5" height="1.8" fill="#1f4fa3"/><rect x="316.20" y="541.10" width="1.5" height="1.8" fill="#3466b8"/><rect x="316.14" y="543.50" width="1.5" height="1.8" fill="#1f4fa3"/></g>
<path d="M303.40 471.00 L303.42 471.95 L303.47 473.33 L303.51 474.90 L303.52 476.40 L303.50 477.60 L303.41 478.39 L303.26 478.94 L303.10 479.40 L302.97 479.93 L302.90 480.70 L302.93 481.78 L303.03 483.05 L303.15 484.42 L303.26 485.77 L303.30 487.00 L303.26 488.07 L303.16 489.06 L303.05 490.01 L302.95 490.98 L302.90 492.00 L302.93 493.14 L303.01 494.37 L303.11 495.60 L303.19 496.73 L303.20 497.70 L303.14 498.46 L303.04 499.06 L302.90 499.56 L302.75 500.02 L302.60 500.50 L302.45 500.97 L302.30 501.39 L302.13 501.81 L301.94 502.23 L301.70 502.70 L301.38 503.24 L301.00 503.84 L300.60 504.45 L300.24 505.02 L300.00 505.50 L299.88 505.87 L299.85 506.15 L299.88 506.39 L299.93 506.63 L300.00 506.90 L300.09 507.20 L300.23 507.51 L300.38 507.83 L300.52 508.16 L300.60 508.50 L300.64 508.83 L300.64 509.15 L300.62 509.49 L300.58 509.89 L300.50 510.40 L300.39 511.04 L300.25 511.78 L300.08 512.58 L299.90 513.40 L299.70 514.20 L299.47 514.98 L299.21 515.76 L298.93 516.54 L298.69 517.32 L298.50 518.10 L298.39 518.87 L298.32 519.64 L298.29 520.41 L298.26 521.16 L298.20 521.90 L298.13 522.63 L298.06 523.36 L297.98 524.07 L297.87 524.76 L297.70 525.40 L297.46 525.98 L297.17 526.52 L296.85 527.03 L296.52 527.55 L296.20 528.10 L295.89 528.70 L295.57 529.32 L295.25 529.95 L294.96 530.58 L294.70 531.20 L294.51 531.80 L294.36 532.40 L294.24 533.00 L294.09 533.60 L293.90 534.20 L293.65 534.81 L293.37 535.43 L293.07 536.06 L292.74 536.68 L292.40 537.30 L292.01 537.95 L291.57 538.63 L291.12 539.30 L290.72 539.90 L290.40 540.40 L290.16 540.75 L289.98 540.98 L289.85 541.16 L289.79 541.35 L289.80 541.60 L289.87 541.92 L289.99 542.26 L290.18 542.63 L290.48 543.04 L290.90 543.50 L291.46 544.03 L292.15 544.62 L292.94 545.24 L293.79 545.88 L294.70 546.50 L295.71 547.13 L296.86 547.77 L298.03 548.41 L299.14 549.03 L300.10 549.60 L300.90 550.12 L301.62 550.61 L302.24 551.06 L302.76 551.49 L303.20 551.90 L303.52 552.31 L303.72 552.70 L303.85 553.07 L303.93 553.38 L304.00 553.60 L304.00 553.60 L304.07 553.38 L304.15 553.07 L304.28 552.70 L304.48 552.31 L304.80 551.90 L305.24 551.49 L305.76 551.06 L306.38 550.61 L307.10 550.12 L307.90 549.60 L308.86 549.03 L309.97 548.41 L311.14 547.77 L312.29 547.13 L313.30 546.50 L314.21 545.88 L315.06 545.24 L315.85 544.62 L316.54 544.03 L317.10 543.50 L317.52 543.04 L317.82 542.63 L318.01 542.26 L318.13 541.92 L318.20 541.60 L318.21 541.35 L318.15 541.16 L318.02 540.98 L317.84 540.75 L317.60 540.40 L317.28 539.90 L316.88 539.30 L316.43 538.63 L315.99 537.95 L315.60 537.30 L315.26 536.68 L314.93 536.06 L314.63 535.43 L314.35 534.81 L314.10 534.20 L313.91 533.60 L313.76 533.00 L313.64 532.40 L313.49 531.80 L313.30 531.20 L313.04 530.58 L312.75 529.95 L312.43 529.32 L312.11 528.70 L311.80 528.10 L311.48 527.55 L311.15 527.03 L310.83 526.52 L310.54 525.98 L310.30 525.40 L310.13 524.76 L310.02 524.07 L309.94 523.36 L309.87 522.63 L309.80 521.90 L309.74 521.16 L309.71 520.41 L309.68 519.64 L309.61 518.87 L309.50 518.10 L309.31 517.32 L309.07 516.54 L308.79 515.76 L308.53 514.98 L308.30 514.20 L308.10 513.40 L307.92 512.58 L307.75 511.78 L307.61 511.04 L307.50 510.40 L307.42 509.89 L307.38 509.49 L307.36 509.15 L307.36 508.83 L307.40 508.50 L307.48 508.16 L307.62 507.83 L307.77 507.51 L307.91 507.20 L308.00 506.90 L308.07 506.63 L308.12 506.39 L308.15 506.15 L308.12 505.87 L308.00 505.50 L307.76 505.02 L307.40 504.45 L307.00 503.84 L306.62 503.24 L306.30 502.70 L306.06 502.23 L305.87 501.81 L305.70 501.39 L305.55 500.97 L305.40 500.50 L305.25 500.02 L305.10 499.56 L304.96 499.06 L304.86 498.46 L304.80 497.70 L304.81 496.73 L304.89 495.60 L304.99 494.37 L305.07 493.14 L305.10 492.00 L305.05 490.98 L304.95 490.01 L304.84 489.06 L304.74 488.07 L304.70 487.00 L304.74 485.77 L304.85 484.42 L304.97 483.05 L305.07 481.78 L305.10 480.70 L305.03 479.93 L304.90 479.40 L304.74 478.94 L304.59 478.39 L304.50 477.60 L304.48 476.40 L304.49 474.90 L304.53 473.33 L304.58 471.95 L304.60 471.00Z" fill="none" stroke="#101522" stroke-width="1.4" stroke-linejoin="round"/>
<clipPath id="clip350"><path d="M350.10 460.60 L350.06 461.59 L350.00 462.97 L349.93 464.60 L349.86 466.32 L349.80 468.00 L349.75 469.68 L349.71 471.48 L349.67 473.29 L349.63 475.03 L349.60 476.60 L349.58 477.99 L349.58 479.26 L349.58 480.44 L349.56 481.54 L349.50 482.60 L349.41 483.60 L349.29 484.52 L349.15 485.39 L348.99 486.21 L348.80 487.00 L348.54 487.74 L348.22 488.43 L347.90 489.08 L347.64 489.73 L347.50 490.40 L347.55 491.10 L347.75 491.80 L347.99 492.50 L348.21 493.20 L348.30 493.90 L348.26 494.58 L348.14 495.26 L347.97 495.94 L347.75 496.62 L347.50 497.30 L347.18 497.98 L346.78 498.65 L346.36 499.34 L345.98 500.05 L345.70 500.80 L345.54 501.62 L345.47 502.48 L345.45 503.37 L345.44 504.25 L345.40 505.10 L345.35 505.90 L345.32 506.68 L345.28 507.45 L345.22 508.22 L345.10 509.00 L344.93 509.79 L344.72 510.59 L344.48 511.40 L344.21 512.20 L343.90 513.00 L343.54 513.80 L343.11 514.60 L342.67 515.40 L342.25 516.20 L341.90 517.00 L341.62 517.80 L341.38 518.60 L341.17 519.40 L341.01 520.20 L340.90 521.00 L340.84 521.80 L340.83 522.60 L340.86 523.40 L340.92 524.20 L341.00 525.00 L341.18 525.80 L341.46 526.60 L341.73 527.39 L341.88 528.19 L341.80 529.00 L341.42 529.82 L340.80 530.64 L340.07 531.46 L339.33 532.28 L338.70 533.10 L338.16 533.92 L337.64 534.75 L337.15 535.56 L336.73 536.35 L336.40 537.10 L336.14 537.79 L335.95 538.44 L335.83 539.06 L335.81 539.67 L335.90 540.30 L336.10 540.94 L336.39 541.58 L336.78 542.22 L337.28 542.86 L337.90 543.50 L338.67 544.14 L339.60 544.78 L340.62 545.42 L341.67 546.06 L342.70 546.70 L343.76 547.35 L344.90 548.02 L346.02 548.68 L347.05 549.31 L347.90 549.90 L348.56 550.45 L349.09 550.97 L349.50 551.46 L349.83 551.90 L350.10 552.30 L350.29 552.65 L350.37 552.96 L350.39 553.23 L350.39 553.44 L350.40 553.60 L350.40 553.60 L350.41 553.44 L350.41 553.23 L350.43 552.96 L350.51 552.65 L350.70 552.30 L350.97 551.90 L351.30 551.46 L351.71 550.97 L352.24 550.45 L352.90 549.90 L353.75 549.31 L354.78 548.68 L355.90 548.02 L357.04 547.35 L358.10 546.70 L359.13 546.06 L360.18 545.42 L361.20 544.78 L362.13 544.14 L362.90 543.50 L363.52 542.86 L364.02 542.22 L364.41 541.58 L364.70 540.94 L364.90 540.30 L364.99 539.67 L364.97 539.06 L364.85 538.44 L364.66 537.79 L364.40 537.10 L364.07 536.35 L363.65 535.56 L363.16 534.75 L362.64 533.92 L362.10 533.10 L361.47 532.28 L360.73 531.46 L360.00 530.64 L359.38 529.82 L359.00 529.00 L358.92 528.19 L359.07 527.39 L359.34 526.60 L359.62 525.80 L359.80 525.00 L359.88 524.20 L359.94 523.40 L359.97 522.60 L359.96 521.80 L359.90 521.00 L359.79 520.20 L359.63 519.40 L359.42 518.60 L359.18 517.80 L358.90 517.00 L358.55 516.20 L358.13 515.40 L357.69 514.60 L357.26 513.80 L356.90 513.00 L356.59 512.20 L356.32 511.40 L356.08 510.59 L355.87 509.79 L355.70 509.00 L355.58 508.22 L355.52 507.45 L355.48 506.68 L355.45 505.90 L355.40 505.10 L355.36 504.25 L355.35 503.37 L355.33 502.48 L355.26 501.62 L355.10 500.80 L354.82 500.05 L354.44 499.34 L354.02 498.65 L353.62 497.98 L353.30 497.30 L353.05 496.62 L352.83 495.94 L352.66 495.26 L352.54 494.58 L352.50 493.90 L352.59 493.20 L352.81 492.50 L353.05 491.80 L353.25 491.10 L353.30 490.40 L353.16 489.73 L352.90 489.08 L352.58 488.43 L352.26 487.74 L352.00 487.00 L351.81 486.21 L351.65 485.39 L351.51 484.52 L351.39 483.60 L351.30 482.60 L351.24 481.54 L351.22 480.44 L351.22 479.26 L351.22 477.99 L351.20 476.60 L351.17 475.03 L351.13 473.29 L351.09 471.48 L351.05 469.68 L351.00 468.00 L350.94 466.32 L350.87 464.60 L350.80 462.97 L350.74 461.59 L350.70 460.60Z"/></clipPath>
<path d="M350.10 460.60 L350.06 461.59 L350.00 462.97 L349.93 464.60 L349.86 466.32 L349.80 468.00 L349.75 469.68 L349.71 471.48 L349.67 473.29 L349.63 475.03 L349.60 476.60 L349.58 477.99 L349.58 479.26 L349.58 480.44 L349.56 481.54 L349.50 482.60 L349.41 483.60 L349.29 484.52 L349.15 485.39 L348.99 486.21 L348.80 487.00 L348.54 487.74 L348.22 488.43 L347.90 489.08 L347.64 489.73 L347.50 490.40 L347.55 491.10 L347.75 491.80 L347.99 492.50 L348.21 493.20 L348.30 493.90 L348.26 494.58 L348.14 495.26 L347.97 495.94 L347.75 496.62 L347.50 497.30 L347.18 497.98 L346.78 498.65 L346.36 499.34 L345.98 500.05 L345.70 500.80 L345.54 501.62 L345.47 502.48 L345.45 503.37 L345.44 504.25 L345.40 505.10 L345.35 505.90 L345.32 506.68 L345.28 507.45 L345.22 508.22 L345.10 509.00 L344.93 509.79 L344.72 510.59 L344.48 511.40 L344.21 512.20 L343.90 513.00 L343.54 513.80 L343.11 514.60 L342.67 515.40 L342.25 516.20 L341.90 517.00 L341.62 517.80 L341.38 518.60 L341.17 519.40 L341.01 520.20 L340.90 521.00 L340.84 521.80 L340.83 522.60 L340.86 523.40 L340.92 524.20 L341.00 525.00 L341.18 525.80 L341.46 526.60 L341.73 527.39 L341.88 528.19 L341.80 529.00 L341.42 529.82 L340.80 530.64 L340.07 531.46 L339.33 532.28 L338.70 533.10 L338.16 533.92 L337.64 534.75 L337.15 535.56 L336.73 536.35 L336.40 537.10 L336.14 537.79 L335.95 538.44 L335.83 539.06 L335.81 539.67 L335.90 540.30 L336.10 540.94 L336.39 541.58 L336.78 542.22 L337.28 542.86 L337.90 543.50 L338.67 544.14 L339.60 544.78 L340.62 545.42 L341.67 546.06 L342.70 546.70 L343.76 547.35 L344.90 548.02 L346.02 548.68 L347.05 549.31 L347.90 549.90 L348.56 550.45 L349.09 550.97 L349.50 551.46 L349.83 551.90 L350.10 552.30 L350.29 552.65 L350.37 552.96 L350.39 553.23 L350.39 553.44 L350.40 553.60 L350.40 553.60 L350.41 553.44 L350.41 553.23 L350.43 552.96 L350.51 552.65 L350.70 552.30 L350.97 551.90 L351.30 551.46 L351.71 550.97 L352.24 550.45 L352.90 549.90 L353.75 549.31 L354.78 548.68 L355.90 548.02 L357.04 547.35 L358.10 546.70 L359.13 546.06 L360.18 545.42 L361.20 544.78 L362.13 544.14 L362.90 543.50 L363.52 542.86 L364.02 542.22 L364.41 541.58 L364.70 540.94 L364.90 540.30 L364.99 539.67 L364.97 539.06 L364.85 538.44 L364.66 537.79 L364.40 537.10 L364.07 536.35 L363.65 535.56 L363.16 534.75 L362.64 533.92 L362.10 533.10 L361.47 532.28 L360.73 531.46 L360.00 530.64 L359.38 529.82 L359.00 529.00 L358.92 528.19 L359.07 527.39 L359.34 526.60 L359.62 525.80 L359.80 525.00 L359.88 524.20 L359.94 523.40 L359.97 522.60 L359.96 521.80 L359.90 521.00 L359.79 520.20 L359.63 519.40 L359.42 518.60 L359.18 517.80 L358.90 517.00 L358.55 516.20 L358.13 515.40 L357.69 514.60 L357.26 513.80 L356.90 513.00 L356.59 512.20 L356.32 511.40 L356.08 510.59 L355.87 509.79 L355.70 509.00 L355.58 508.22 L355.52 507.45 L355.48 506.68 L355.45 505.90 L355.40 505.10 L355.36 504.25 L355.35 503.37 L355.33 502.48 L355.26 501.62 L355.10 500.80 L354.82 500.05 L354.44 499.34 L354.02 498.65 L353.62 497.98 L353.30 497.30 L353.05 496.62 L352.83 495.94 L352.66 495.26 L352.54 494.58 L352.50 493.90 L352.59 493.20 L352.81 492.50 L353.05 491.80 L353.25 491.10 L353.30 490.40 L353.16 489.73 L352.90 489.08 L352.58 488.43 L352.26 487.74 L352.00 487.00 L351.81 486.21 L351.65 485.39 L351.51 484.52 L351.39 483.60 L351.30 482.60 L351.24 481.54 L351.22 480.44 L351.22 479.26 L351.22 477.99 L351.20 476.60 L351.17 475.03 L351.13 473.29 L351.09 471.48 L351.05 469.68 L351.00 468.00 L350.94 466.32 L350.87 464.60 L350.80 462.97 L350.74 461.59 L350.70 460.60Z" fill="#55c455"/>
<g clip-path="url(#clip350)"><rect x="335.94" y="539.60" width="1.2" height="1.2" fill="#7fdc7f"/><rect x="338.38" y="533.96" width="1.2" height="1.2" fill="#34a334"/><rect x="338.53" y="537.56" width="1.2" height="1.2" fill="#34a334"/><rect x="338.30" y="541.16" width="1.2" height="1.2" fill="#a8eca8"/><rect x="338.39" y="542.96" width="1.2" height="1.2" fill="#34a334"/><rect x="340.67" y="521.02" width="1.2" height="1.2" fill="#34a334"/><rect x="340.68" y="522.82" width="1.2" height="1.2" fill="#7fdc7f"/><rect x="340.42" y="524.62" width="1.2" height="1.2" fill="#7fdc7f"/><rect x="340.65" y="531.82" width="1.2" height="1.2" fill="#34a334"/><rect x="340.58" y="533.62" width="1.2" height="1.2" fill="#34a334"/><rect x="340.38" y="535.42" width="1.2" height="1.2" fill="#a8eca8"/><rect x="340.53" y="540.82" width="1.2" height="1.2" fill="#34a334"/><rect x="340.79" y="542.62" width="1.2" height="1.2" fill="#a8eca8"/><rect x="340.47" y="544.42" width="1.2" height="1.2" fill="#34a334"/><rect x="342.85" y="514.18" width="1.2" height="1.2" fill="#a8eca8"/><rect x="342.83" y="515.98" width="1.2" height="1.2" fill="#34a334"/><rect x="342.70" y="519.58" width="1.2" height="1.2" fill="#a8eca8"/><rect x="343.01" y="521.38" width="1.2" height="1.2" fill="#34a334"/><rect x="342.86" y="523.18" width="1.2" height="1.2" fill="#a8eca8"/><rect x="342.85" y="530.38" width="1.2" height="1.2" fill="#a8eca8"/><rect x="342.93" y="532.18" width="1.2" height="1.2" fill="#34a334"/><rect x="343.04" y="533.98" width="1.2" height="1.2" fill="#a8eca8"/><rect x="343.10" y="535.78" width="1.2" height="1.2" fill="#7fdc7f"/><rect x="342.94" y="539.38" width="1.2" height="1.2" fill="#34a334"/><rect x="342.89" y="546.58" width="1.2" height="1.2" fill="#7fdc7f"/><rect x="345.28" y="503.08" width="1.2" height="1.2" fill="#34a334"/><rect x="345.18" y="504.88" width="1.2" height="1.2" fill="#34a334"/><rect x="344.97" y="506.68" width="1.2" height="1.2" fill="#34a334"/><rect x="345.17" y="508.48" width="1.2" height="1.2" fill="#34a334"/><rect x="345.40" y="510.28" width="1.2" height="1.2" fill="#7fdc7f"/><rect x="345.26" y="512.08" width="1.2" height="1.2" fill="#34a334"/><rect x="345.07" y="513.88" width="1.2" height="1.2" fill="#a8eca8"/><rect x="345.41" y="515.68" width="1.2" height="1.2" fill="#34a334"/><rect x="345.30" y="517.48" width="1.2" height="1.2" fill="#7fdc7f"/><rect x="345.25" y="519.28" width="1.2" height="1.2" fill="#7fdc7f"/><rect x="345.42" y="526.48" width="1.2" height="1.2" fill="#7fdc7f"/><rect x="345.19" y="530.08" width="1.2" height="1.2" fill="#34a334"/><rect x="344.99" y="531.88" width="1.2" height="1.2" fill="#a8eca8"/><rect x="345.20" y="533.68" width="1.2" height="1.2" fill="#a8eca8"/><rect x="345.27" y="537.28" width="1.2" height="1.2" fill="#34a334"/><rect x="345.33" y="539.08" width="1.2" height="1.2" fill="#34a334"/><rect x="345.40" y="540.88" width="1.2" height="1.2" fill="#a8eca8"/><rect x="345.21" y="544.48" width="1.2" height="1.2" fill="#a8eca8"/><rect x="344.95" y="546.28" width="1.2" height="1.2" fill="#a8eca8"/><rect x="345.02" y="548.08" width="1.2" height="1.2" fill="#34a334"/><rect x="347.34" y="490.23" width="1.2" height="1.2" fill="#a8eca8"/><rect x="347.26" y="492.03" width="1.2" height="1.2" fill="#a8eca8"/><rect x="347.50" y="495.63" width="1.2" height="1.2" fill="#a8eca8"/><rect x="347.47" y="497.43" width="1.2" height="1.2" fill="#a8eca8"/><rect x="347.28" y="499.23" width="1.2" height="1.2" fill="#34a334"/><rect x="347.26" y="501.03" width="1.2" height="1.2" fill="#a8eca8"/><rect x="347.49" y="504.63" width="1.2" height="1.2" fill="#a8eca8"/><rect x="347.42" y="506.43" width="1.2" height="1.2" fill="#34a334"/><rect x="347.61" y="508.23" width="1.2" height="1.2" fill="#a8eca8"/><rect x="347.48" y="510.03" width="1.2" height="1.2" fill="#34a334"/><rect x="347.38" y="513.63" width="1.2" height="1.2" fill="#a8eca8"/><rect x="347.59" y="519.03" width="1.2" height="1.2" fill="#a8eca8"/><rect x="347.27" y="522.63" width="1.2" height="1.2" fill="#a8eca8"/><rect x="347.27" y="524.43" width="1.2" height="1.2" fill="#a8eca8"/><rect x="347.70" y="526.23" width="1.2" height="1.2" fill="#34a334"/><rect x="347.49" y="528.03" width="1.2" height="1.2" fill="#7fdc7f"/><rect x="347.55" y="535.23" width="1.2" height="1.2" fill="#a8eca8"/><rect x="347.67" y="538.83" width="1.2" height="1.2" fill="#a8eca8"/><rect x="347.42" y="540.63" width="1.2" height="1.2" fill="#a8eca8"/><rect x="347.62" y="546.03" width="1.2" height="1.2" fill="#34a334"/><rect x="347.43" y="549.63" width="1.2" height="1.2" fill="#7fdc7f"/><rect x="349.79" y="461.35" width="1.2" height="1.2" fill="#34a334"/><rect x="349.91" y="463.15" width="1.2" height="1.2" fill="#a8eca8"/><rect x="349.63" y="468.55" width="1.2" height="1.2" fill="#34a334"/><rect x="349.93" y="472.15" width="1.2" height="1.2" fill="#34a334"/><rect x="349.97" y="475.75" width="1.2" height="1.2" fill="#a8eca8"/><rect x="349.92" y="482.95" width="1.2" height="1.2" fill="#7fdc7f"/><rect x="349.59" y="484.75" width="1.2" height="1.2" fill="#a8eca8"/><rect x="349.60" y="486.55" width="1.2" height="1.2" fill="#7fdc7f"/><rect x="349.59" y="488.35" width="1.2" height="1.2" fill="#a8eca8"/><rect x="349.63" y="491.95" width="1.2" height="1.2" fill="#a8eca8"/><rect x="349.66" y="495.55" width="1.2" height="1.2" fill="#a8eca8"/><rect x="349.76" y="499.15" width="1.2" height="1.2" fill="#34a334"/><rect x="349.64" y="506.35" width="1.2" height="1.2" fill="#a8eca8"/><rect x="349.61" y="508.15" width="1.2" height="1.2" fill="#7fdc7f"/><rect x="349.65" y="509.95" width="1.2" height="1.2" fill="#7fdc7f"/><rect x="349.66" y="513.55" width="1.2" height="1.2" fill="#34a334"/><rect x="349.77" y="524.35" width="1.2" height="1.2" fill="#34a334"/><rect x="349.85" y="526.15" width="1.2" height="1.2" fill="#7fdc7f"/><rect x="349.78" y="529.75" width="1.2" height="1.2" fill="#34a334"/><rect x="349.79" y="533.35" width="1.2" height="1.2" fill="#a8eca8"/><rect x="349.92" y="535.15" width="1.2" height="1.2" fill="#34a334"/><rect x="349.85" y="536.95" width="1.2" height="1.2" fill="#34a334"/><rect x="350.05" y="538.75" width="1.2" height="1.2" fill="#a8eca8"/><rect x="349.59" y="540.55" width="1.2" height="1.2" fill="#34a334"/><rect x="350.02" y="542.35" width="1.2" height="1.2" fill="#a8eca8"/><rect x="350.02" y="553.15" width="1.2" height="1.2" fill="#34a334"/><rect x="352.05" y="491.03" width="1.2" height="1.2" fill="#34a334"/><rect x="351.94" y="498.23" width="1.2" height="1.2" fill="#7fdc7f"/><rect x="352.00" y="500.03" width="1.2" height="1.2" fill="#34a334"/><rect x="351.87" y="501.83" width="1.2" height="1.2" fill="#34a334"/><rect x="352.02" y="505.43" width="1.2" height="1.2" fill="#34a334"/><rect x="352.00" y="510.83" width="1.2" height="1.2" fill="#a8eca8"/><rect x="351.93" y="512.63" width="1.2" height="1.2" fill="#a8eca8"/><rect x="352.01" y="523.43" width="1.2" height="1.2" fill="#a8eca8"/><rect x="352.12" y="525.23" width="1.2" height="1.2" fill="#34a334"/><rect x="351.99" y="527.03" width="1.2" height="1.2" fill="#7fdc7f"/><rect x="352.25" y="528.83" width="1.2" height="1.2" fill="#7fdc7f"/><rect x="352.25" y="530.63" width="1.2" height="1.2" fill="#a8eca8"/><rect x="352.12" y="532.43" width="1.2" height="1.2" fill="#a8eca8"/><rect x="351.88" y="534.23" width="1.2" height="1.2" fill="#a8eca8"/><rect x="352.08" y="536.03" width="1.2" height="1.2" fill="#34a334"/><rect x="351.86" y="543.23" width="1.2" height="1.2" fill="#a8eca8"/><rect x="351.88" y="545.03" width="1.2" height="1.2" fill="#a8eca8"/><rect x="352.01" y="546.83" width="1.2" height="1.2" fill="#a8eca8"/><rect x="352.06" y="548.63" width="1.2" height="1.2" fill="#7fdc7f"/><rect x="354.46" y="500.67" width="1.2" height="1.2" fill="#34a334"/><rect x="354.53" y="507.87" width="1.2" height="1.2" fill="#a8eca8"/><rect x="354.43" y="511.47" width="1.2" height="1.2" fill="#7fdc7f"/><rect x="354.16" y="513.27" width="1.2" height="1.2" fill="#a8eca8"/><rect x="354.61" y="520.47" width="1.2" height="1.2" fill="#34a334"/><rect x="354.24" y="525.87" width="1.2" height="1.2" fill="#34a334"/><rect x="354.65" y="527.67" width="1.2" height="1.2" fill="#34a334"/><rect x="354.33" y="529.47" width="1.2" height="1.2" fill="#34a334"/><rect x="354.38" y="531.27" width="1.2" height="1.2" fill="#7fdc7f"/><rect x="354.41" y="534.87" width="1.2" height="1.2" fill="#a8eca8"/><rect x="354.56" y="536.67" width="1.2" height="1.2" fill="#7fdc7f"/><rect x="354.42" y="542.07" width="1.2" height="1.2" fill="#34a334"/><rect x="354.50" y="543.87" width="1.2" height="1.2" fill="#a8eca8"/><rect x="354.34" y="547.47" width="1.2" height="1.2" fill="#34a334"/><rect x="356.54" y="520.93" width="1.2" height="1.2" fill="#7fdc7f"/><rect x="356.61" y="522.73" width="1.2" height="1.2" fill="#7fdc7f"/><rect x="356.92" y="524.53" width="1.2" height="1.2" fill="#7fdc7f"/><rect x="356.59" y="526.33" width="1.2" height="1.2" fill="#a8eca8"/><rect x="356.94" y="528.13" width="1.2" height="1.2" fill="#a8eca8"/><rect x="356.55" y="529.93" width="1.2" height="1.2" fill="#a8eca8"/><rect x="356.82" y="531.73" width="1.2" height="1.2" fill="#34a334"/><rect x="356.93" y="538.93" width="1.2" height="1.2" fill="#a8eca8"/><rect x="356.69" y="540.73" width="1.2" height="1.2" fill="#a8eca8"/><rect x="356.47" y="542.53" width="1.2" height="1.2" fill="#34a334"/><rect x="356.52" y="544.33" width="1.2" height="1.2" fill="#7fdc7f"/><rect x="359.13" y="525.72" width="1.2" height="1.2" fill="#a8eca8"/><rect x="359.16" y="531.12" width="1.2" height="1.2" fill="#a8eca8"/><rect x="359.02" y="534.72" width="1.2" height="1.2" fill="#7fdc7f"/><rect x="358.94" y="536.52" width="1.2" height="1.2" fill="#a8eca8"/><rect x="358.82" y="540.12" width="1.2" height="1.2" fill="#a8eca8"/><rect x="359.21" y="541.92" width="1.2" height="1.2" fill="#a8eca8"/><rect x="359.22" y="543.72" width="1.2" height="1.2" fill="#a8eca8"/><rect x="361.53" y="534.36" width="1.2" height="1.2" fill="#a8eca8"/><rect x="361.21" y="536.16" width="1.2" height="1.2" fill="#34a334"/><rect x="361.42" y="537.96" width="1.2" height="1.2" fill="#a8eca8"/><rect x="361.32" y="541.56" width="1.2" height="1.2" fill="#34a334"/><rect x="361.47" y="543.36" width="1.2" height="1.2" fill="#34a334"/><rect x="363.77" y="538.36" width="1.2" height="1.2" fill="#7fdc7f"/><rect x="363.77" y="540.16" width="1.2" height="1.2" fill="#7fdc7f"/></g>
<path d="M350.10 460.60 L350.06 461.59 L350.00 462.97 L349.93 464.60 L349.86 466.32 L349.80 468.00 L349.75 469.68 L349.71 471.48 L349.67 473.29 L349.63 475.03 L349.60 476.60 L349.58 477.99 L349.58 479.26 L349.58 480.44 L349.56 481.54 L349.50 482.60 L349.41 483.60 L349.29 484.52 L349.15 485.39 L348.99 486.21 L348.80 487.00 L348.54 487.74 L348.22 488.43 L347.90 489.08 L347.64 489.73 L347.50 490.40 L347.55 491.10 L347.75 491.80 L347.99 492.50 L348.21 493.20 L348.30 493.90 L348.26 494.58 L348.14 495.26 L347.97 495.94 L347.75 496.62 L347.50 497.30 L347.18 497.98 L346.78 498.65 L346.36 499.34 L345.98 500.05 L345.70 500.80 L345.54 501.62 L345.47 502.48 L345.45 503.37 L345.44 504.25 L345.40 505.10 L345.35 505.90 L345.32 506.68 L345.28 507.45 L345.22 508.22 L345.10 509.00 L344.93 509.79 L344.72 510.59 L344.48 511.40 L344.21 512.20 L343.90 513.00 L343.54 513.80 L343.11 514.60 L342.67 515.40 L342.25 516.20 L341.90 517.00 L341.62 517.80 L341.38 518.60 L341.17 519.40 L341.01 520.20 L340.90 521.00 L340.84 521.80 L340.83 522.60 L340.86 523.40 L340.92 524.20 L341.00 525.00 L341.18 525.80 L341.46 526.60 L341.73 527.39 L341.88 528.19 L341.80 529.00 L341.42 529.82 L340.80 530.64 L340.07 531.46 L339.33 532.28 L338.70 533.10 L338.16 533.92 L337.64 534.75 L337.15 535.56 L336.73 536.35 L336.40 537.10 L336.14 537.79 L335.95 538.44 L335.83 539.06 L335.81 539.67 L335.90 540.30 L336.10 540.94 L336.39 541.58 L336.78 542.22 L337.28 542.86 L337.90 543.50 L338.67 544.14 L339.60 544.78 L340.62 545.42 L341.67 546.06 L342.70 546.70 L343.76 547.35 L344.90 548.02 L346.02 548.68 L347.05 549.31 L347.90 549.90 L348.56 550.45 L349.09 550.97 L349.50 551.46 L349.83 551.90 L350.10 552.30 L350.29 552.65 L350.37 552.96 L350.39 553.23 L350.39 553.44 L350.40 553.60 L350.40 553.60 L350.41 553.44 L350.41 553.23 L350.43 552.96 L350.51 552.65 L350.70 552.30 L350.97 551.90 L351.30 551.46 L351.71 550.97 L352.24 550.45 L352.90 549.90 L353.75 549.31 L354.78 548.68 L355.90 548.02 L357.04 547.35 L358.10 546.70 L359.13 546.06 L360.18 545.42 L361.20 544.78 L362.13 544.14 L362.90 543.50 L363.52 542.86 L364.02 542.22 L364.41 541.58 L364.70 540.94 L364.90 540.30 L364.99 539.67 L364.97 539.06 L364.85 538.44 L364.66 537.79 L364.40 537.10 L364.07 536.35 L363.65 535.56 L363.16 534.75 L362.64 533.92 L362.10 533.10 L361.47 532.28 L360.73 531.46 L360.00 530.64 L359.38 529.82 L359.00 529.00 L358.92 528.19 L359.07 527.39 L359.34 526.60 L359.62 525.80 L359.80 525.00 L359.88 524.20 L359.94 523.40 L359.97 522.60 L359.96 521.80 L359.90 521.00 L359.79 520.20 L359.63 519.40 L359.42 518.60 L359.18 517.80 L358.90 517.00 L358.55 516.20 L358.13 515.40 L357.69 514.60 L357.26 513.80 L356.90 513.00 L356.59 512.20 L356.32 511.40 L356.08 510.59 L355.87 509.79 L355.70 509.00 L355.58 508.22 L355.52 507.45 L355.48 506.68 L355.45 505.90 L355.40 505.10 L355.36 504.25 L355.35 503.37 L355.33 502.48 L355.26 501.62 L355.10 500.80 L354.82 500.05 L354.44 499.34 L354.02 498.65 L353.62 497.98 L353.30 497.30 L353.05 496.62 L352.83 495.94 L352.66 495.26 L352.54 494.58 L352.50 493.90 L352.59 493.20 L352.81 492.50 L353.05 491.80 L353.25 491.10 L353.30 490.40 L353.16 489.73 L352.90 489.08 L352.58 488.43 L352.26 487.74 L352.00 487.00 L351.81 486.21 L351.65 485.39 L351.51 484.52 L351.39 483.60 L351.30 482.60 L351.24 481.54 L351.22 480.44 L351.22 479.26 L351.22 477.99 L351.20 476.60 L351.17 475.03 L351.13 473.29 L351.09 471.48 L351.05 469.68 L351.00 468.00 L350.94 466.32 L350.87 464.60 L350.80 462.97 L350.74 461.59 L350.70 460.60Z" fill="none" stroke="#10240f" stroke-width="1.4" stroke-linejoin="round"/>
<rect x="339.90" y="534.40" width="1.2" height="1.2" fill="#3a8a3a"/>
<rect x="360.40" y="534.40" width="1.2" height="1.2" fill="#3a8a3a"/>
<rect x="338.40" y="511.40" width="1.2" height="1.2" fill="#3a8a3a"/>
<rect x="359.90" y="507.40" width="1.2" height="1.2" fill="#3a8a3a"/>
<rect x="341.40" y="499.40" width="1.2" height="1.2" fill="#3a8a3a"/>
<rect x="357.90" y="491.40" width="1.2" height="1.2" fill="#3a8a3a"/>
<clipPath id="clip397"><path d="M396.70 446.40 L396.67 447.56 L396.63 449.20 L396.58 451.12 L396.54 453.12 L396.50 455.00 L396.47 456.82 L396.45 458.72 L396.43 460.60 L396.41 462.39 L396.40 464.00 L396.40 465.36 L396.40 466.53 L396.40 467.62 L396.40 468.74 L396.40 470.00 L396.39 471.44 L396.39 473.00 L396.38 474.60 L396.35 476.18 L396.30 477.70 L396.21 479.20 L396.09 480.74 L395.96 482.21 L395.82 483.53 L395.70 484.60 L395.61 485.34 L395.53 485.81 L395.45 486.14 L395.35 486.46 L395.20 486.90 L394.99 487.47 L394.73 488.09 L394.45 488.73 L394.17 489.37 L393.90 490.00 L393.65 490.59 L393.41 491.16 L393.18 491.74 L392.94 492.34 L392.70 493.00 L392.46 493.72 L392.22 494.50 L391.97 495.30 L391.73 496.11 L391.50 496.90 L391.27 497.68 L391.04 498.46 L390.81 499.25 L390.60 500.03 L390.40 500.80 L390.23 501.56 L390.08 502.32 L389.93 503.08 L389.78 503.84 L389.60 504.60 L389.39 505.35 L389.17 506.09 L388.94 506.83 L388.68 507.63 L388.40 508.50 L388.10 509.49 L387.78 510.59 L387.44 511.71 L387.08 512.81 L386.70 513.80 L386.28 514.67 L385.82 515.47 L385.35 516.21 L384.90 516.95 L384.50 517.70 L384.15 518.46 L383.82 519.22 L383.52 519.98 L383.28 520.74 L383.10 521.50 L383.00 522.28 L382.97 523.06 L382.98 523.84 L383.03 524.62 L383.10 525.40 L383.21 526.16 L383.38 526.92 L383.57 527.68 L383.72 528.44 L383.80 529.20 L383.80 529.98 L383.73 530.76 L383.63 531.54 L383.52 532.32 L383.40 533.10 L383.27 533.86 L383.12 534.62 L382.96 535.38 L382.81 536.14 L382.70 536.90 L382.59 537.70 L382.47 538.53 L382.38 539.35 L382.38 540.12 L382.50 540.80 L382.75 541.35 L383.10 541.80 L383.54 542.20 L384.07 542.61 L384.70 543.10 L385.45 543.67 L386.32 544.29 L387.28 544.93 L388.25 545.57 L389.20 546.20 L390.16 546.82 L391.17 547.44 L392.16 548.06 L393.09 548.65 L393.90 549.20 L394.59 549.71 L395.19 550.18 L395.71 550.63 L396.15 551.06 L396.50 551.50 L396.74 551.97 L396.88 552.46 L396.94 552.92 L396.97 553.32 L397.00 553.60 L397.00 553.60 L397.03 553.32 L397.06 552.92 L397.12 552.46 L397.26 551.97 L397.50 551.50 L397.85 551.06 L398.29 550.63 L398.81 550.18 L399.41 549.71 L400.10 549.20 L400.91 548.65 L401.84 548.06 L402.83 547.44 L403.84 546.82 L404.80 546.20 L405.75 545.57 L406.72 544.93 L407.68 544.29 L408.55 543.67 L409.30 543.10 L409.93 542.61 L410.46 542.20 L410.90 541.80 L411.25 541.35 L411.50 540.80 L411.62 540.12 L411.62 539.35 L411.53 538.53 L411.41 537.70 L411.30 536.90 L411.19 536.14 L411.04 535.38 L410.88 534.62 L410.73 533.86 L410.60 533.10 L410.48 532.32 L410.37 531.54 L410.27 530.76 L410.20 529.98 L410.20 529.20 L410.28 528.44 L410.43 527.68 L410.62 526.92 L410.79 526.16 L410.90 525.40 L410.97 524.62 L411.02 523.84 L411.03 523.06 L411.00 522.28 L410.90 521.50 L410.72 520.74 L410.48 519.98 L410.18 519.22 L409.85 518.46 L409.50 517.70 L409.10 516.95 L408.65 516.21 L408.18 515.47 L407.72 514.67 L407.30 513.80 L406.92 512.81 L406.56 511.71 L406.22 510.59 L405.90 509.49 L405.60 508.50 L405.32 507.63 L405.06 506.83 L404.83 506.09 L404.61 505.35 L404.40 504.60 L404.22 503.84 L404.07 503.08 L403.92 502.32 L403.77 501.56 L403.60 500.80 L403.40 500.03 L403.19 499.25 L402.96 498.46 L402.73 497.68 L402.50 496.90 L402.27 496.11 L402.03 495.30 L401.78 494.50 L401.54 493.72 L401.30 493.00 L401.06 492.34 L400.82 491.74 L400.59 491.16 L400.35 490.59 L400.10 490.00 L399.83 489.37 L399.55 488.73 L399.27 488.09 L399.01 487.47 L398.80 486.90 L398.65 486.46 L398.55 486.14 L398.47 485.81 L398.39 485.34 L398.30 484.60 L398.18 483.53 L398.04 482.21 L397.91 480.74 L397.79 479.20 L397.70 477.70 L397.65 476.18 L397.62 474.60 L397.61 473.00 L397.61 471.44 L397.60 470.00 L397.60 468.74 L397.60 467.62 L397.60 466.53 L397.60 465.36 L397.60 464.00 L397.59 462.39 L397.57 460.60 L397.55 458.72 L397.53 456.82 L397.50 455.00 L397.46 453.12 L397.42 451.12 L397.37 449.20 L397.33 447.56 L397.30 446.40Z"/></clipPath>
<path d="M396.70 446.40 L396.67 447.56 L396.63 449.20 L396.58 451.12 L396.54 453.12 L396.50 455.00 L396.47 456.82 L396.45 458.72 L396.43 460.60 L396.41 462.39 L396.40 464.00 L396.40 465.36 L396.40 466.53 L396.40 467.62 L396.40 468.74 L396.40 470.00 L396.39 471.44 L396.39 473.00 L396.38 474.60 L396.35 476.18 L396.30 477.70 L396.21 479.20 L396.09 480.74 L395.96 482.21 L395.82 483.53 L395.70 484.60 L395.61 485.34 L395.53 485.81 L395.45 486.14 L395.35 486.46 L395.20 486.90 L394.99 487.47 L394.73 488.09 L394.45 488.73 L394.17 489.37 L393.90 490.00 L393.65 490.59 L393.41 491.16 L393.18 491.74 L392.94 492.34 L392.70 493.00 L392.46 493.72 L392.22 494.50 L391.97 495.30 L391.73 496.11 L391.50 496.90 L391.27 497.68 L391.04 498.46 L390.81 499.25 L390.60 500.03 L390.40 500.80 L390.23 501.56 L390.08 502.32 L389.93 503.08 L389.78 503.84 L389.60 504.60 L389.39 505.35 L389.17 506.09 L388.94 506.83 L388.68 507.63 L388.40 508.50 L388.10 509.49 L387.78 510.59 L387.44 511.71 L387.08 512.81 L386.70 513.80 L386.28 514.67 L385.82 515.47 L385.35 516.21 L384.90 516.95 L384.50 517.70 L384.15 518.46 L383.82 519.22 L383.52 519.98 L383.28 520.74 L383.10 521.50 L383.00 522.28 L382.97 523.06 L382.98 523.84 L383.03 524.62 L383.10 525.40 L383.21 526.16 L383.38 526.92 L383.57 527.68 L383.72 528.44 L383.80 529.20 L383.80 529.98 L383.73 530.76 L383.63 531.54 L383.52 532.32 L383.40 533.10 L383.27 533.86 L383.12 534.62 L382.96 535.38 L382.81 536.14 L382.70 536.90 L382.59 537.70 L382.47 538.53 L382.38 539.35 L382.38 540.12 L382.50 540.80 L382.75 541.35 L383.10 541.80 L383.54 542.20 L384.07 542.61 L384.70 543.10 L385.45 543.67 L386.32 544.29 L387.28 544.93 L388.25 545.57 L389.20 546.20 L390.16 546.82 L391.17 547.44 L392.16 548.06 L393.09 548.65 L393.90 549.20 L394.59 549.71 L395.19 550.18 L395.71 550.63 L396.15 551.06 L396.50 551.50 L396.74 551.97 L396.88 552.46 L396.94 552.92 L396.97 553.32 L397.00 553.60 L397.00 553.60 L397.03 553.32 L397.06 552.92 L397.12 552.46 L397.26 551.97 L397.50 551.50 L397.85 551.06 L398.29 550.63 L398.81 550.18 L399.41 549.71 L400.10 549.20 L400.91 548.65 L401.84 548.06 L402.83 547.44 L403.84 546.82 L404.80 546.20 L405.75 545.57 L406.72 544.93 L407.68 544.29 L408.55 543.67 L409.30 543.10 L409.93 542.61 L410.46 542.20 L410.90 541.80 L411.25 541.35 L411.50 540.80 L411.62 540.12 L411.62 539.35 L411.53 538.53 L411.41 537.70 L411.30 536.90 L411.19 536.14 L411.04 535.38 L410.88 534.62 L410.73 533.86 L410.60 533.10 L410.48 532.32 L410.37 531.54 L410.27 530.76 L410.20 529.98 L410.20 529.20 L410.28 528.44 L410.43 527.68 L410.62 526.92 L410.79 526.16 L410.90 525.40 L410.97 524.62 L411.02 523.84 L411.03 523.06 L411.00 522.28 L410.90 521.50 L410.72 520.74 L410.48 519.98 L410.18 519.22 L409.85 518.46 L409.50 517.70 L409.10 516.95 L408.65 516.21 L408.18 515.47 L407.72 514.67 L407.30 513.80 L406.92 512.81 L406.56 511.71 L406.22 510.59 L405.90 509.49 L405.60 508.50 L405.32 507.63 L405.06 506.83 L404.83 506.09 L404.61 505.35 L404.40 504.60 L404.22 503.84 L404.07 503.08 L403.92 502.32 L403.77 501.56 L403.60 500.80 L403.40 500.03 L403.19 499.25 L402.96 498.46 L402.73 497.68 L402.50 496.90 L402.27 496.11 L402.03 495.30 L401.78 494.50 L401.54 493.72 L401.30 493.00 L401.06 492.34 L400.82 491.74 L400.59 491.16 L400.35 490.59 L400.10 490.00 L399.83 489.37 L399.55 488.73 L399.27 488.09 L399.01 487.47 L398.80 486.90 L398.65 486.46 L398.55 486.14 L398.47 485.81 L398.39 485.34 L398.30 484.60 L398.18 483.53 L398.04 482.21 L397.91 480.74 L397.79 479.20 L397.70 477.70 L397.65 476.18 L397.62 474.60 L397.61 473.00 L397.61 471.44 L397.60 470.00 L397.60 468.74 L397.60 467.62 L397.60 466.53 L397.60 465.36 L397.60 464.00 L397.59 462.39 L397.57 460.60 L397.55 458.72 L397.53 456.82 L397.50 455.00 L397.46 453.12 L397.42 451.12 L397.37 449.20 L397.33 447.56 L397.30 446.40Z" fill="#f28a8a"/>
<g clip-path="url(#clip397)"><rect x="383.20" y="518.89" width="1.5" height="1.8" fill="#e8384c"/><rect x="383.43" y="523.69" width="1.5" height="1.8" fill="#dc0a26"/><rect x="383.34" y="526.09" width="1.5" height="1.8" fill="#e8384c"/><rect x="383.05" y="528.49" width="1.5" height="1.8" fill="#dc0a26"/><rect x="383.07" y="530.89" width="1.5" height="1.8" fill="#dc0a26"/><rect x="383.25" y="533.29" width="1.5" height="1.8" fill="#dc0a26"/><rect x="383.18" y="535.69" width="1.5" height="1.8" fill="#dc0a26"/><rect x="383.47" y="538.09" width="1.5" height="1.8" fill="#e8384c"/><rect x="385.73" y="515.60" width="1.5" height="1.8" fill="#e8384c"/><rect x="385.97" y="518.00" width="1.5" height="1.8" fill="#dc0a26"/><rect x="385.74" y="520.40" width="1.5" height="1.8" fill="#dc0a26"/><rect x="385.87" y="525.20" width="1.5" height="1.8" fill="#dc0a26"/><rect x="385.91" y="532.40" width="1.5" height="1.8" fill="#dc0a26"/><rect x="386.02" y="534.80" width="1.5" height="1.8" fill="#dc0a26"/><rect x="386.03" y="537.20" width="1.5" height="1.8" fill="#dc0a26"/><rect x="385.78" y="539.60" width="1.5" height="1.8" fill="#e8384c"/><rect x="386.04" y="542.00" width="1.5" height="1.8" fill="#dc0a26"/><rect x="385.96" y="544.40" width="1.5" height="1.8" fill="#e8384c"/><rect x="388.40" y="507.27" width="1.5" height="1.8" fill="#dc0a26"/><rect x="388.64" y="509.67" width="1.5" height="1.8" fill="#dc0a26"/><rect x="388.31" y="512.07" width="1.5" height="1.8" fill="#dc0a26"/><rect x="388.27" y="514.47" width="1.5" height="1.8" fill="#dc0a26"/><rect x="388.34" y="516.87" width="1.5" height="1.8" fill="#dc0a26"/><rect x="388.66" y="519.27" width="1.5" height="1.8" fill="#dc0a26"/><rect x="388.61" y="521.67" width="1.5" height="1.8" fill="#dc0a26"/><rect x="388.42" y="524.07" width="1.5" height="1.8" fill="#e8384c"/><rect x="388.64" y="526.47" width="1.5" height="1.8" fill="#dc0a26"/><rect x="388.65" y="528.87" width="1.5" height="1.8" fill="#dc0a26"/><rect x="388.61" y="531.27" width="1.5" height="1.8" fill="#dc0a26"/><rect x="388.21" y="533.67" width="1.5" height="1.8" fill="#dc0a26"/><rect x="388.62" y="536.07" width="1.5" height="1.8" fill="#dc0a26"/><rect x="388.39" y="538.47" width="1.5" height="1.8" fill="#dc0a26"/><rect x="388.51" y="540.87" width="1.5" height="1.8" fill="#dc0a26"/><rect x="388.25" y="543.27" width="1.5" height="1.8" fill="#dc0a26"/><rect x="391.18" y="496.06" width="1.5" height="1.8" fill="#dc0a26"/><rect x="391.04" y="500.86" width="1.5" height="1.8" fill="#dc0a26"/><rect x="391.21" y="503.26" width="1.5" height="1.8" fill="#e8384c"/><rect x="391.09" y="505.66" width="1.5" height="1.8" fill="#dc0a26"/><rect x="390.84" y="510.46" width="1.5" height="1.8" fill="#dc0a26"/><rect x="391.27" y="512.86" width="1.5" height="1.8" fill="#dc0a26"/><rect x="390.84" y="515.26" width="1.5" height="1.8" fill="#dc0a26"/><rect x="391.23" y="517.66" width="1.5" height="1.8" fill="#dc0a26"/><rect x="391.29" y="520.06" width="1.5" height="1.8" fill="#dc0a26"/><rect x="390.90" y="522.46" width="1.5" height="1.8" fill="#dc0a26"/><rect x="390.87" y="524.86" width="1.5" height="1.8" fill="#e8384c"/><rect x="390.98" y="527.26" width="1.5" height="1.8" fill="#dc0a26"/><rect x="391.23" y="529.66" width="1.5" height="1.8" fill="#e8384c"/><rect x="390.83" y="532.06" width="1.5" height="1.8" fill="#dc0a26"/><rect x="390.90" y="534.46" width="1.5" height="1.8" fill="#dc0a26"/><rect x="391.27" y="539.26" width="1.5" height="1.8" fill="#e8384c"/><rect x="391.00" y="541.66" width="1.5" height="1.8" fill="#e8384c"/><rect x="390.82" y="544.06" width="1.5" height="1.8" fill="#dc0a26"/><rect x="391.23" y="546.46" width="1.5" height="1.8" fill="#dc0a26"/><rect x="393.59" y="489.20" width="1.5" height="1.8" fill="#dc0a26"/><rect x="393.53" y="491.60" width="1.5" height="1.8" fill="#dc0a26"/><rect x="393.46" y="494.00" width="1.5" height="1.8" fill="#dc0a26"/><rect x="393.68" y="496.40" width="1.5" height="1.8" fill="#dc0a26"/><rect x="393.51" y="498.80" width="1.5" height="1.8" fill="#dc0a26"/><rect x="393.49" y="501.20" width="1.5" height="1.8" fill="#dc0a26"/><rect x="393.67" y="503.60" width="1.5" height="1.8" fill="#dc0a26"/><rect x="393.62" y="506.00" width="1.5" height="1.8" fill="#dc0a26"/><rect x="393.83" y="508.40" width="1.5" height="1.8" fill="#dc0a26"/><rect x="393.53" y="510.80" width="1.5" height="1.8" fill="#dc0a26"/><rect x="393.81" y="515.60" width="1.5" height="1.8" fill="#dc0a26"/><rect x="393.64" y="520.40" width="1.5" height="1.8" fill="#e8384c"/><rect x="393.57" y="522.80" width="1.5" height="1.8" fill="#dc0a26"/><rect x="393.45" y="525.20" width="1.5" height="1.8" fill="#dc0a26"/><rect x="393.64" y="527.60" width="1.5" height="1.8" fill="#e8384c"/><rect x="393.62" y="530.00" width="1.5" height="1.8" fill="#e8384c"/><rect x="393.81" y="532.40" width="1.5" height="1.8" fill="#dc0a26"/><rect x="393.78" y="534.80" width="1.5" height="1.8" fill="#dc0a26"/><rect x="393.85" y="537.20" width="1.5" height="1.8" fill="#dc0a26"/><rect x="393.82" y="542.00" width="1.5" height="1.8" fill="#e8384c"/><rect x="393.41" y="544.40" width="1.5" height="1.8" fill="#dc0a26"/><rect x="393.58" y="546.80" width="1.5" height="1.8" fill="#dc0a26"/><rect x="393.52" y="549.20" width="1.5" height="1.8" fill="#dc0a26"/><rect x="396.05" y="448.07" width="1.5" height="1.8" fill="#dc0a26"/><rect x="396.36" y="450.47" width="1.5" height="1.8" fill="#dc0a26"/><rect x="396.10" y="452.87" width="1.5" height="1.8" fill="#dc0a26"/><rect x="396.05" y="455.27" width="1.5" height="1.8" fill="#dc0a26"/><rect x="396.10" y="457.67" width="1.5" height="1.8" fill="#dc0a26"/><rect x="396.05" y="460.07" width="1.5" height="1.8" fill="#dc0a26"/><rect x="396.43" y="462.47" width="1.5" height="1.8" fill="#e8384c"/><rect x="396.03" y="464.87" width="1.5" height="1.8" fill="#dc0a26"/><rect x="396.47" y="467.27" width="1.5" height="1.8" fill="#dc0a26"/><rect x="396.24" y="469.67" width="1.5" height="1.8" fill="#e8384c"/><rect x="396.48" y="472.07" width="1.5" height="1.8" fill="#dc0a26"/><rect x="396.26" y="474.47" width="1.5" height="1.8" fill="#dc0a26"/><rect x="396.49" y="476.87" width="1.5" height="1.8" fill="#dc0a26"/><rect x="396.45" y="479.27" width="1.5" height="1.8" fill="#dc0a26"/><rect x="396.38" y="481.67" width="1.5" height="1.8" fill="#dc0a26"/><rect x="396.49" y="484.07" width="1.5" height="1.8" fill="#dc0a26"/><rect x="396.08" y="486.47" width="1.5" height="1.8" fill="#dc0a26"/><rect x="396.25" y="488.87" width="1.5" height="1.8" fill="#dc0a26"/><rect x="396.37" y="491.27" width="1.5" height="1.8" fill="#e8384c"/><rect x="396.21" y="493.67" width="1.5" height="1.8" fill="#dc0a26"/><rect x="396.27" y="496.07" width="1.5" height="1.8" fill="#dc0a26"/><rect x="396.02" y="498.47" width="1.5" height="1.8" fill="#dc0a26"/><rect x="396.11" y="500.87" width="1.5" height="1.8" fill="#dc0a26"/><rect x="396.48" y="503.27" width="1.5" height="1.8" fill="#dc0a26"/><rect x="396.19" y="505.67" width="1.5" height="1.8" fill="#dc0a26"/><rect x="396.37" y="508.07" width="1.5" height="1.8" fill="#dc0a26"/><rect x="396.49" y="512.87" width="1.5" height="1.8" fill="#dc0a26"/><rect x="396.37" y="515.27" width="1.5" height="1.8" fill="#dc0a26"/><rect x="396.33" y="517.67" width="1.5" height="1.8" fill="#dc0a26"/><rect x="396.07" y="520.07" width="1.5" height="1.8" fill="#dc0a26"/><rect x="396.07" y="522.47" width="1.5" height="1.8" fill="#e8384c"/><rect x="396.39" y="524.87" width="1.5" height="1.8" fill="#dc0a26"/><rect x="396.50" y="527.27" width="1.5" height="1.8" fill="#dc0a26"/><rect x="396.35" y="529.67" width="1.5" height="1.8" fill="#dc0a26"/><rect x="396.35" y="532.07" width="1.5" height="1.8" fill="#dc0a26"/><rect x="396.26" y="534.47" width="1.5" height="1.8" fill="#dc0a26"/><rect x="396.05" y="536.87" width="1.5" height="1.8" fill="#e8384c"/><rect x="396.40" y="539.27" width="1.5" height="1.8" fill="#dc0a26"/><rect x="396.16" y="541.67" width="1.5" height="1.8" fill="#dc0a26"/><rect x="396.40" y="544.07" width="1.5" height="1.8" fill="#dc0a26"/><rect x="396.21" y="546.47" width="1.5" height="1.8" fill="#dc0a26"/><rect x="396.29" y="548.87" width="1.5" height="1.8" fill="#dc0a26"/><rect x="396.15" y="551.27" width="1.5" height="1.8" fill="#dc0a26"/><rect x="398.70" y="489.66" width="1.5" height="1.8" fill="#dc0a26"/><rect x="398.98" y="492.06" width="1.5" height="1.8" fill="#dc0a26"/><rect x="398.97" y="494.46" width="1.5" height="1.8" fill="#dc0a26"/><rect x="398.75" y="496.86" width="1.5" height="1.8" fill="#dc0a26"/><rect x="398.85" y="499.26" width="1.5" height="1.8" fill="#dc0a26"/><rect x="398.89" y="501.66" width="1.5" height="1.8" fill="#e8384c"/><rect x="398.66" y="504.06" width="1.5" height="1.8" fill="#dc0a26"/><rect x="399.10" y="508.86" width="1.5" height="1.8" fill="#dc0a26"/><rect x="398.84" y="511.26" width="1.5" height="1.8" fill="#dc0a26"/><rect x="398.81" y="513.66" width="1.5" height="1.8" fill="#e8384c"/><rect x="398.60" y="516.06" width="1.5" height="1.8" fill="#dc0a26"/><rect x="399.05" y="518.46" width="1.5" height="1.8" fill="#e8384c"/><rect x="398.75" y="520.86" width="1.5" height="1.8" fill="#dc0a26"/><rect x="398.75" y="523.26" width="1.5" height="1.8" fill="#dc0a26"/><rect x="398.64" y="525.66" width="1.5" height="1.8" fill="#dc0a26"/><rect x="398.70" y="530.46" width="1.5" height="1.8" fill="#e8384c"/><rect x="398.87" y="532.86" width="1.5" height="1.8" fill="#dc0a26"/><rect x="398.92" y="535.26" width="1.5" height="1.8" fill="#dc0a26"/><rect x="398.86" y="537.66" width="1.5" height="1.8" fill="#dc0a26"/><rect x="398.94" y="542.46" width="1.5" height="1.8" fill="#dc0a26"/><rect x="398.88" y="547.26" width="1.5" height="1.8" fill="#dc0a26"/><rect x="401.21" y="497.74" width="1.5" height="1.8" fill="#dc0a26"/><rect x="401.33" y="500.14" width="1.5" height="1.8" fill="#dc0a26"/><rect x="401.38" y="502.54" width="1.5" height="1.8" fill="#dc0a26"/><rect x="401.68" y="504.94" width="1.5" height="1.8" fill="#dc0a26"/><rect x="401.37" y="507.34" width="1.5" height="1.8" fill="#dc0a26"/><rect x="401.49" y="509.74" width="1.5" height="1.8" fill="#dc0a26"/><rect x="401.29" y="512.14" width="1.5" height="1.8" fill="#dc0a26"/><rect x="401.45" y="514.54" width="1.5" height="1.8" fill="#dc0a26"/><rect x="401.48" y="516.94" width="1.5" height="1.8" fill="#e8384c"/><rect x="401.22" y="519.34" width="1.5" height="1.8" fill="#dc0a26"/><rect x="401.38" y="521.74" width="1.5" height="1.8" fill="#dc0a26"/><rect x="401.31" y="524.14" width="1.5" height="1.8" fill="#dc0a26"/><rect x="401.50" y="526.54" width="1.5" height="1.8" fill="#dc0a26"/><rect x="401.25" y="528.94" width="1.5" height="1.8" fill="#dc0a26"/><rect x="401.39" y="531.34" width="1.5" height="1.8" fill="#dc0a26"/><rect x="401.30" y="533.74" width="1.5" height="1.8" fill="#dc0a26"/><rect x="401.56" y="536.14" width="1.5" height="1.8" fill="#dc0a26"/><rect x="401.60" y="540.94" width="1.5" height="1.8" fill="#e8384c"/><rect x="401.27" y="543.34" width="1.5" height="1.8" fill="#e8384c"/><rect x="401.26" y="545.74" width="1.5" height="1.8" fill="#e8384c"/><rect x="404.25" y="510.23" width="1.5" height="1.8" fill="#e8384c"/><rect x="403.91" y="512.63" width="1.5" height="1.8" fill="#dc0a26"/><rect x="403.96" y="515.03" width="1.5" height="1.8" fill="#dc0a26"/><rect x="403.93" y="517.43" width="1.5" height="1.8" fill="#e8384c"/><rect x="403.96" y="519.83" width="1.5" height="1.8" fill="#e8384c"/><rect x="403.94" y="522.23" width="1.5" height="1.8" fill="#e8384c"/><rect x="403.92" y="524.63" width="1.5" height="1.8" fill="#e8384c"/><rect x="403.91" y="527.03" width="1.5" height="1.8" fill="#e8384c"/><rect x="403.91" y="531.83" width="1.5" height="1.8" fill="#dc0a26"/><rect x="404.00" y="534.23" width="1.5" height="1.8" fill="#dc0a26"/><rect x="404.22" y="536.63" width="1.5" height="1.8" fill="#dc0a26"/><rect x="403.84" y="541.43" width="1.5" height="1.8" fill="#e8384c"/><rect x="403.88" y="543.83" width="1.5" height="1.8" fill="#dc0a26"/><rect x="406.61" y="520.72" width="1.5" height="1.8" fill="#dc0a26"/><rect x="406.53" y="523.12" width="1.5" height="1.8" fill="#e8384c"/><rect x="406.50" y="525.52" width="1.5" height="1.8" fill="#e8384c"/><rect x="406.45" y="530.32" width="1.5" height="1.8" fill="#dc0a26"/><rect x="406.73" y="535.12" width="1.5" height="1.8" fill="#dc0a26"/><rect x="406.46" y="537.52" width="1.5" height="1.8" fill="#dc0a26"/><rect x="406.84" y="539.92" width="1.5" height="1.8" fill="#dc0a26"/><rect x="406.56" y="542.32" width="1.5" height="1.8" fill="#dc0a26"/><rect x="409.20" y="521.07" width="1.5" height="1.8" fill="#dc0a26"/><rect x="409.24" y="523.47" width="1.5" height="1.8" fill="#dc0a26"/><rect x="409.38" y="525.87" width="1.5" height="1.8" fill="#dc0a26"/><rect x="409.09" y="528.27" width="1.5" height="1.8" fill="#dc0a26"/><rect x="409.19" y="530.67" width="1.5" height="1.8" fill="#dc0a26"/><rect x="409.19" y="533.07" width="1.5" height="1.8" fill="#e8384c"/><rect x="409.01" y="535.47" width="1.5" height="1.8" fill="#dc0a26"/><rect x="409.25" y="537.87" width="1.5" height="1.8" fill="#dc0a26"/><rect x="409.36" y="540.27" width="1.5" height="1.8" fill="#dc0a26"/></g>
<path d="M396.70 446.40 L396.67 447.56 L396.63 449.20 L396.58 451.12 L396.54 453.12 L396.50 455.00 L396.47 456.82 L396.45 458.72 L396.43 460.60 L396.41 462.39 L396.40 464.00 L396.40 465.36 L396.40 466.53 L396.40 467.62 L396.40 468.74 L396.40 470.00 L396.39 471.44 L396.39 473.00 L396.38 474.60 L396.35 476.18 L396.30 477.70 L396.21 479.20 L396.09 480.74 L395.96 482.21 L395.82 483.53 L395.70 484.60 L395.61 485.34 L395.53 485.81 L395.45 486.14 L395.35 486.46 L395.20 486.90 L394.99 487.47 L394.73 488.09 L394.45 488.73 L394.17 489.37 L393.90 490.00 L393.65 490.59 L393.41 491.16 L393.18 491.74 L392.94 492.34 L392.70 493.00 L392.46 493.72 L392.22 494.50 L391.97 495.30 L391.73 496.11 L391.50 496.90 L391.27 497.68 L391.04 498.46 L390.81 499.25 L390.60 500.03 L390.40 500.80 L390.23 501.56 L390.08 502.32 L389.93 503.08 L389.78 503.84 L389.60 504.60 L389.39 505.35 L389.17 506.09 L388.94 506.83 L388.68 507.63 L388.40 508.50 L388.10 509.49 L387.78 510.59 L387.44 511.71 L387.08 512.81 L386.70 513.80 L386.28 514.67 L385.82 515.47 L385.35 516.21 L384.90 516.95 L384.50 517.70 L384.15 518.46 L383.82 519.22 L383.52 519.98 L383.28 520.74 L383.10 521.50 L383.00 522.28 L382.97 523.06 L382.98 523.84 L383.03 524.62 L383.10 525.40 L383.21 526.16 L383.38 526.92 L383.57 527.68 L383.72 528.44 L383.80 529.20 L383.80 529.98 L383.73 530.76 L383.63 531.54 L383.52 532.32 L383.40 533.10 L383.27 533.86 L383.12 534.62 L382.96 535.38 L382.81 536.14 L382.70 536.90 L382.59 537.70 L382.47 538.53 L382.38 539.35 L382.38 540.12 L382.50 540.80 L382.75 541.35 L383.10 541.80 L383.54 542.20 L384.07 542.61 L384.70 543.10 L385.45 543.67 L386.32 544.29 L387.28 544.93 L388.25 545.57 L389.20 546.20 L390.16 546.82 L391.17 547.44 L392.16 548.06 L393.09 548.65 L393.90 549.20 L394.59 549.71 L395.19 550.18 L395.71 550.63 L396.15 551.06 L396.50 551.50 L396.74 551.97 L396.88 552.46 L396.94 552.92 L396.97 553.32 L397.00 553.60 L397.00 553.60 L397.03 553.32 L397.06 552.92 L397.12 552.46 L397.26 551.97 L397.50 551.50 L397.85 551.06 L398.29 550.63 L398.81 550.18 L399.41 549.71 L400.10 549.20 L400.91 548.65 L401.84 548.06 L402.83 547.44 L403.84 546.82 L404.80 546.20 L405.75 545.57 L406.72 544.93 L407.68 544.29 L408.55 543.67 L409.30 543.10 L409.93 542.61 L410.46 542.20 L410.90 541.80 L411.25 541.35 L411.50 540.80 L411.62 540.12 L411.62 539.35 L411.53 538.53 L411.41 537.70 L411.30 536.90 L411.19 536.14 L411.04 535.38 L410.88 534.62 L410.73 533.86 L410.60 533.10 L410.48 532.32 L410.37 531.54 L410.27 530.76 L410.20 529.98 L410.20 529.20 L410.28 528.44 L410.43 527.68 L410.62 526.92 L410.79 526.16 L410.90 525.40 L410.97 524.62 L411.02 523.84 L411.03 523.06 L411.00 522.28 L410.90 521.50 L410.72 520.74 L410.48 519.98 L410.18 519.22 L409.85 518.46 L409.50 517.70 L409.10 516.95 L408.65 516.21 L408.18 515.47 L407.72 514.67 L407.30 513.80 L406.92 512.81 L406.56 511.71 L406.22 510.59 L405.90 509.49 L405.60 508.50 L405.32 507.63 L405.06 506.83 L404.83 506.09 L404.61 505.35 L404.40 504.60 L404.22 503.84 L404.07 503.08 L403.92 502.32 L403.77 501.56 L403.60 500.80 L403.40 500.03 L403.19 499.25 L402.96 498.46 L402.73 497.68 L402.50 496.90 L402.27 496.11 L402.03 495.30 L401.78 494.50 L401.54 493.72 L401.30 493.00 L401.06 492.34 L400.82 491.74 L400.59 491.16 L400.35 490.59 L400.10 490.00 L399.83 489.37 L399.55 488.73 L399.27 488.09 L399.01 487.47 L398.80 486.90 L398.65 486.46 L398.55 486.14 L398.47 485.81 L398.39 485.34 L398.30 484.60 L398.18 483.53 L398.04 482.21 L397.91 480.74 L397.79 479.20 L397.70 477.70 L397.65 476.18 L397.62 474.60 L397.61 473.00 L397.61 471.44 L397.60 470.00 L397.60 468.74 L397.60 467.62 L397.60 466.53 L397.60 465.36 L397.60 464.00 L397.59 462.39 L397.57 460.60 L397.55 458.72 L397.53 456.82 L397.50 455.00 L397.46 453.12 L397.42 451.12 L397.37 449.20 L397.33 447.56 L397.30 446.40Z" fill="none" stroke="#1a0e10" stroke-width="1.4" stroke-linejoin="round"/>
<rect x="389.10" y="489.60" width="1.2" height="1.2" fill="#d01830"/>
<rect x="402.90" y="489.60" width="1.2" height="1.2" fill="#d01830"/>
<rect x="386.40" y="497.90" width="1.2" height="1.2" fill="#d01830"/>
<rect x="405.60" y="498.20" width="1.2" height="1.2" fill="#d01830"/>
<text x="194.5" y="574.2" font-size="12.2" text-anchor="start" font-weight="normal" fill="#231f20" textLength="23.3" lengthAdjust="spacingAndGlyphs" >BSA</text>
<text x="157.0" y="592.6" font-size="12.2" text-anchor="start" font-weight="normal" fill="#231f20" textLength="60.8" lengthAdjust="spacingAndGlyphs" >Fibrinogen</text>
<text x="91.7" y="611.9" font-size="12.2" text-anchor="start" font-weight="normal" fill="#231f20" textLength="126.1" lengthAdjust="spacingAndGlyphs" >S100A8/A9 (20 µg/ml)</text>
<text x="91.7" y="631.3" font-size="12.2" text-anchor="start" font-weight="normal" fill="#231f20" textLength="126.1" lengthAdjust="spacingAndGlyphs" >S100A8/A9 (40 µg/ml)</text>
<path d="M254.6 570.7H260.4M257.5 567.8V573.6" stroke="#333" stroke-width="1.1"/>
<line x1="300.7" y1="570.7" x2="307.3" y2="570.7" stroke="#333" stroke-width="1.1"/>
<line x1="347.0" y1="570.7" x2="353.6" y2="570.7" stroke="#333" stroke-width="1.1"/>
<line x1="393.7" y1="570.7" x2="400.3" y2="570.7" stroke="#333" stroke-width="1.1"/>
<line x1="254.2" y1="589.7" x2="260.8" y2="589.7" stroke="#333" stroke-width="1.1"/>
<path d="M301.1 589.7H306.9M304.0 586.8V592.6" stroke="#333" stroke-width="1.1"/>
<line x1="347.0" y1="589.7" x2="353.6" y2="589.7" stroke="#333" stroke-width="1.1"/>
<line x1="393.7" y1="589.7" x2="400.3" y2="589.7" stroke="#333" stroke-width="1.1"/>
<line x1="254.2" y1="609.6" x2="260.8" y2="609.6" stroke="#333" stroke-width="1.1"/>
<line x1="300.7" y1="609.6" x2="307.3" y2="609.6" stroke="#333" stroke-width="1.1"/>
<path d="M347.4 609.6H353.2M350.3 606.7V612.5" stroke="#333" stroke-width="1.1"/>
<line x1="393.7" y1="609.6" x2="400.3" y2="609.6" stroke="#333" stroke-width="1.1"/>
<line x1="254.2" y1="628.7" x2="260.8" y2="628.7" stroke="#333" stroke-width="1.1"/>
<line x1="300.7" y1="628.7" x2="307.3" y2="628.7" stroke="#333" stroke-width="1.1"/>
<line x1="347.0" y1="628.7" x2="353.6" y2="628.7" stroke="#333" stroke-width="1.1"/>
<path d="M394.1 628.7H399.9M397.0 625.8V631.6" stroke="#333" stroke-width="1.1"/>
</svg>
</body></html>
